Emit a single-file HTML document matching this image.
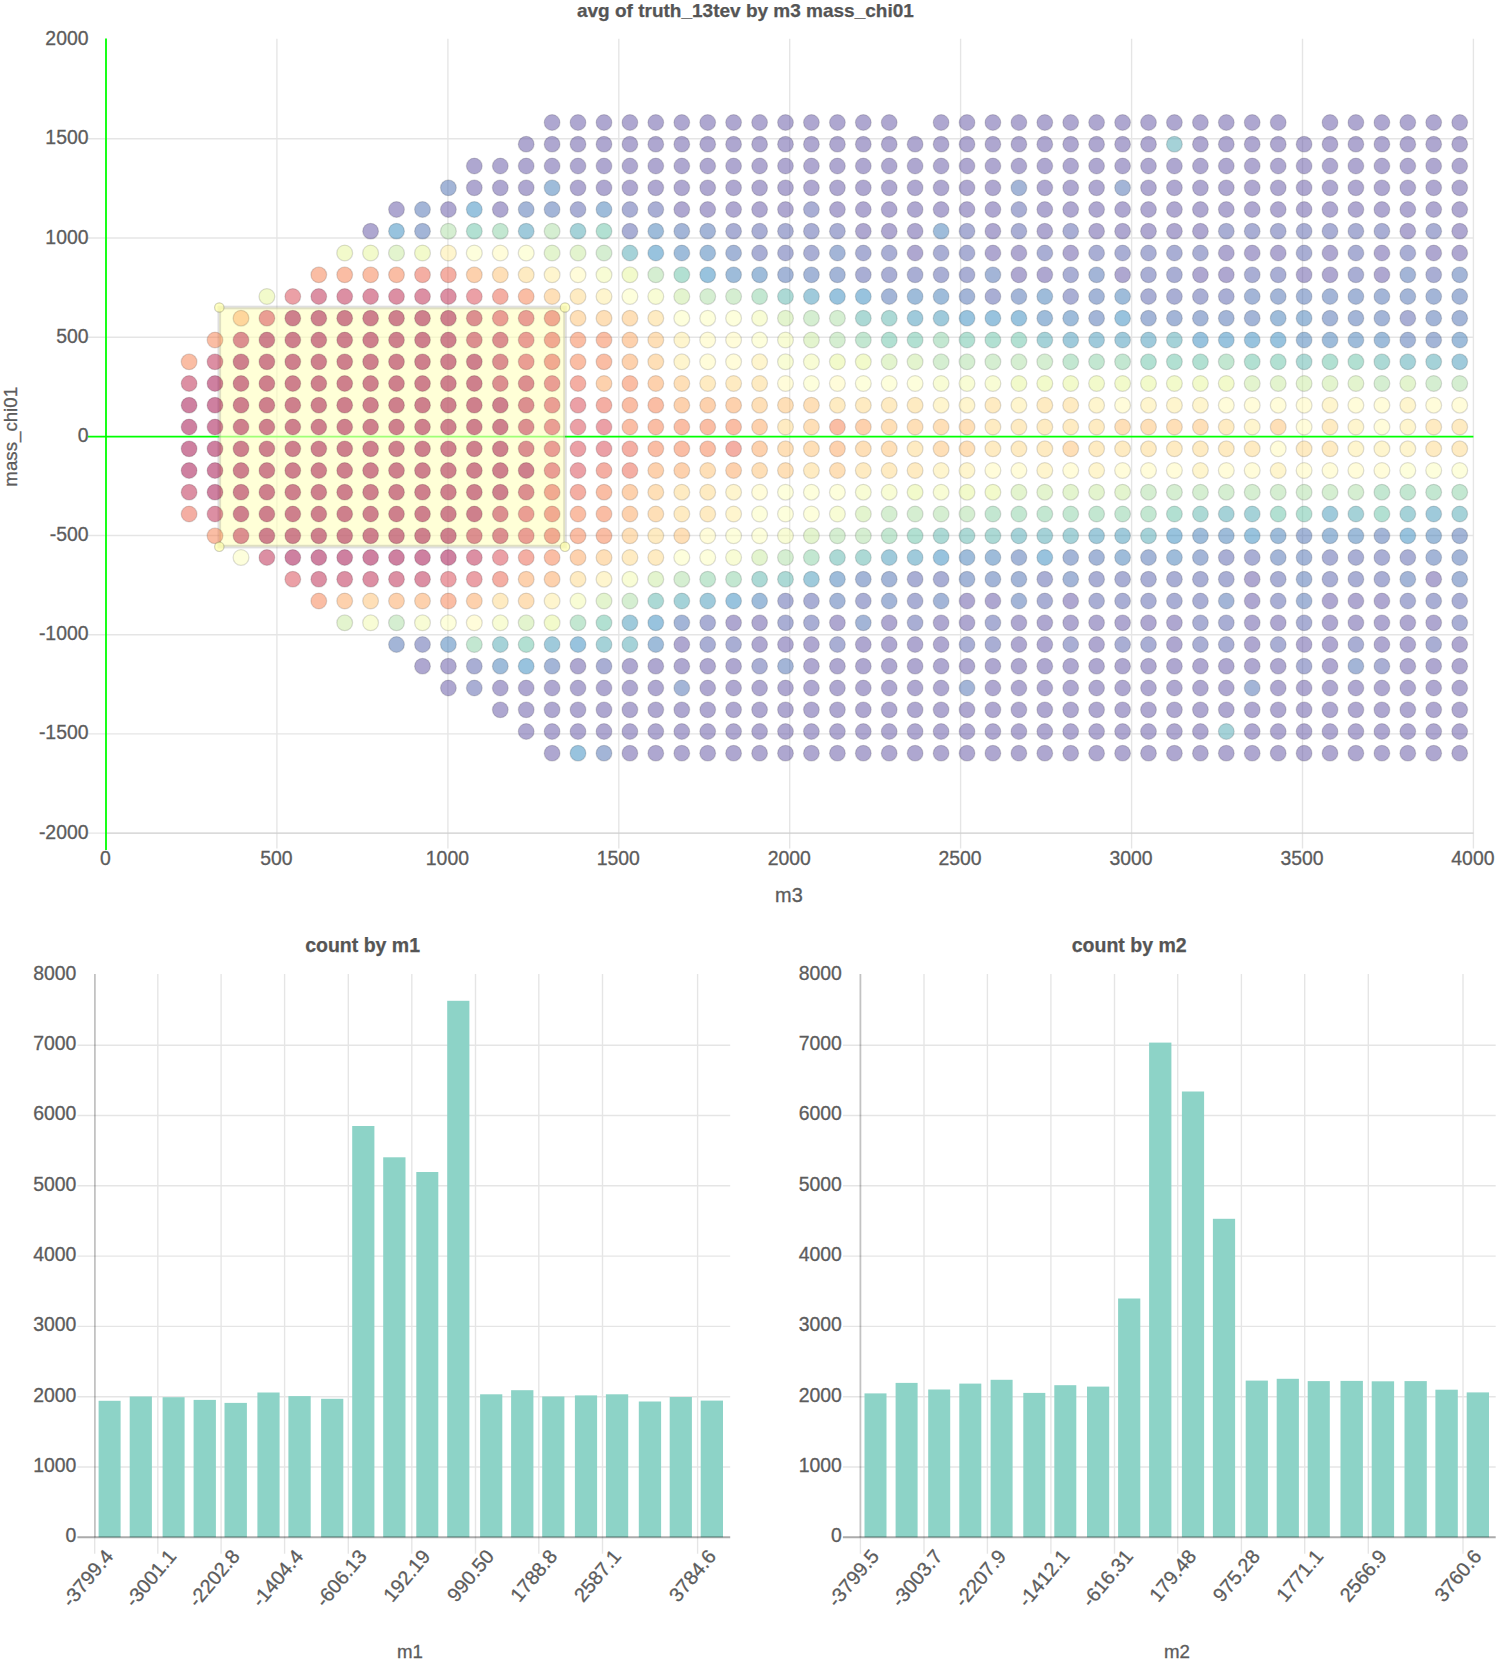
<!DOCTYPE html>
<html lang="en"><head><meta charset="utf-8"><title>avg of truth_13tev by m3 mass_chi01</title>
<style>html,body{margin:0;padding:0;background:#fff}
svg{display:block}
text{font-family:"Liberation Sans",sans-serif;fill:#5c5c5c;font-size:19.4px;stroke:#5c5c5c;stroke-width:.3px}
.tb{font-weight:bold;font-size:19px;fill:#555;stroke:#555;stroke-width:.25px}
.ax{font-size:18.7px}
.rt{font-size:19.8px}
.g{stroke:#000;stroke-opacity:.1;stroke-width:1.4;fill:none}
.z{stroke:#000;stroke-opacity:.24;stroke-width:1.8;fill:none}
.zb{stroke:#000;stroke-opacity:.33;stroke-width:2;fill:none}
.gr{stroke:#00ff00;stroke-width:1.8;fill:none}
.d circle{fill-opacity:.5;stroke:#000;stroke-opacity:.13;stroke-width:1.3}
.b rect{fill:#8dd3c7}
.te{text-anchor:end}
.tm{text-anchor:middle}
.k0{fill:#9e0142}
.k10{fill:#ba2048}
.k103{fill:#fbfeb9}
.k110{fill:#f2faac}
.k120{fill:#e6f598}
.k130{fill:#c8e99e}
.k140{fill:#abdda4}
.k150{fill:#88d0a4}
.k160{fill:#66c2a5}
.k165{fill:#59b4ab}
.k170{fill:#4ca5b1}
.k175{fill:#3f96b7}
.k180{fill:#3288bd}
.k185{fill:#3d7ab6}
.k190{fill:#486cb0}
.k195{fill:#535da9}
.k20{fill:#d53e4f}
.k200{fill:#5e4fa2}
.k22{fill:#d7424e}
.k30{fill:#e45649}
.k33{fill:#e95d47}
.k44{fill:#f67c4a}
.k57{fill:#fca45c}
.k60{fill:#fdae61}
.k67{fill:#fdc070}
.k77{fill:#fed885}
.k87{fill:#feeb9d}
.k96{fill:#fff9b5}</style></head><body>
<svg width="1499" height="1661" viewBox="0 0 1499 1661">
<rect width="1499" height="1661" fill="#fff"/>
<text class="tb tm" x="745.4" y="16.6">avg of truth_13tev by m3 mass_chi01</text>
<path class="g" d="M276.9 38.8V848.6M447.9 38.8V848.6M618.8 38.8V848.6M789.7 38.8V848.6M960.6 38.8V848.6M1131.6 38.8V848.6M1302.5 38.8V848.6M1473.4 38.8V848.6M88.0 138.8H1473.4M88.0 238.0H1473.4M88.0 337.2H1473.4M88.0 535.5H1473.4M88.0 634.7H1473.4M88.0 733.9H1473.4M88.0 833.1H1473.4"/>
<path class="g" d="M106.0 833.1H1473.4"/>
<path class="gr" d="M106.0 38.6V850.1M88.0 436.7H1473.4"/>
<text class="te" x="88.5" y="45.1">2000</text>
<text class="te" x="88.5" y="144.3">1500</text>
<text class="te" x="88.5" y="243.5">1000</text>
<text class="te" x="88.5" y="342.7">500</text>
<text class="te" x="88.5" y="441.9">0</text>
<text class="te" x="88.5" y="541.0">-500</text>
<text class="te" x="88.5" y="640.2">-1000</text>
<text class="te" x="88.5" y="739.4">-1500</text>
<text class="te" x="88.5" y="838.6">-2000</text>
<text class="tm" x="105.5" y="864.5">0</text>
<text class="tm" x="276.4" y="864.5">500</text>
<text class="tm" x="447.4" y="864.5">1000</text>
<text class="tm" x="618.3" y="864.5">1500</text>
<text class="tm" x="789.2" y="864.5">2000</text>
<text class="tm" x="960.1" y="864.5">2500</text>
<text class="tm" x="1131.1" y="864.5">3000</text>
<text class="tm" x="1302.0" y="864.5">3500</text>
<text class="tm" x="1472.9" y="864.5">4000</text>
<text class="tm" style="font-size:19.9px" x="788.9" y="901.5">m3</text>
<text class="tm ax" transform="translate(17.1 436.8) rotate(-90)">mass_chi01</text>
<rect x="219.3" y="307.5" width="345.7" height="239.1" fill="#ffffbe" fill-opacity=".62" stroke="#808080" stroke-opacity=".25" stroke-width="3.6"/>
<g class="d">
<circle class="k200" cx="552.1" cy="122.5" r="7.9"/>
<circle class="k200" cx="578.0" cy="122.5" r="7.9"/>
<circle class="k200" cx="604.0" cy="122.5" r="7.9"/>
<circle class="k200" cx="629.9" cy="122.5" r="7.9"/>
<circle class="k200" cx="655.8" cy="122.5" r="7.9"/>
<circle class="k200" cx="681.8" cy="122.5" r="7.9"/>
<circle class="k200" cx="707.7" cy="122.5" r="7.9"/>
<circle class="k200" cx="733.6" cy="122.5" r="7.9"/>
<circle class="k200" cx="759.6" cy="122.5" r="7.9"/>
<circle class="k200" cx="785.5" cy="122.5" r="7.9"/>
<circle class="k200" cx="811.4" cy="122.5" r="7.9"/>
<circle class="k200" cx="837.4" cy="122.5" r="7.9"/>
<circle class="k200" cx="863.3" cy="122.5" r="7.9"/>
<circle class="k200" cx="889.2" cy="122.5" r="7.9"/>
<circle class="k200" cx="941.1" cy="122.5" r="7.9"/>
<circle class="k200" cx="967.0" cy="122.5" r="7.9"/>
<circle class="k200" cx="992.9" cy="122.5" r="7.9"/>
<circle class="k200" cx="1018.9" cy="122.5" r="7.9"/>
<circle class="k200" cx="1044.8" cy="122.5" r="7.9"/>
<circle class="k200" cx="1070.7" cy="122.5" r="7.9"/>
<circle class="k200" cx="1096.6" cy="122.5" r="7.9"/>
<circle class="k200" cx="1122.6" cy="122.5" r="7.9"/>
<circle class="k200" cx="1148.5" cy="122.5" r="7.9"/>
<circle class="k200" cx="1174.4" cy="122.5" r="7.9"/>
<circle class="k200" cx="1200.4" cy="122.5" r="7.9"/>
<circle class="k200" cx="1226.3" cy="122.5" r="7.9"/>
<circle class="k200" cx="1252.2" cy="122.5" r="7.9"/>
<circle class="k200" cx="1278.2" cy="122.5" r="7.9"/>
<circle class="k200" cx="1330.0" cy="122.5" r="7.9"/>
<circle class="k200" cx="1355.9" cy="122.5" r="7.9"/>
<circle class="k200" cx="1381.9" cy="122.5" r="7.9"/>
<circle class="k200" cx="1407.8" cy="122.5" r="7.9"/>
<circle class="k200" cx="1433.7" cy="122.5" r="7.9"/>
<circle class="k200" cx="1459.7" cy="122.5" r="7.9"/>
<circle class="k200" cx="526.2" cy="144.2" r="7.9"/>
<circle class="k200" cx="552.1" cy="144.2" r="7.9"/>
<circle class="k200" cx="578.0" cy="144.2" r="7.9"/>
<circle class="k200" cx="604.0" cy="144.2" r="7.9"/>
<circle class="k200" cx="629.9" cy="144.2" r="7.9"/>
<circle class="k200" cx="655.8" cy="144.2" r="7.9"/>
<circle class="k200" cx="681.8" cy="144.2" r="7.9"/>
<circle class="k200" cx="707.7" cy="144.2" r="7.9"/>
<circle class="k200" cx="733.6" cy="144.2" r="7.9"/>
<circle class="k200" cx="759.6" cy="144.2" r="7.9"/>
<circle class="k200" cx="785.5" cy="144.2" r="7.9"/>
<circle class="k200" cx="811.4" cy="144.2" r="7.9"/>
<circle class="k200" cx="837.4" cy="144.2" r="7.9"/>
<circle class="k200" cx="863.3" cy="144.2" r="7.9"/>
<circle class="k200" cx="889.2" cy="144.2" r="7.9"/>
<circle class="k200" cx="915.1" cy="144.2" r="7.9"/>
<circle class="k200" cx="941.1" cy="144.2" r="7.9"/>
<circle class="k200" cx="967.0" cy="144.2" r="7.9"/>
<circle class="k200" cx="992.9" cy="144.2" r="7.9"/>
<circle class="k200" cx="1018.9" cy="144.2" r="7.9"/>
<circle class="k200" cx="1044.8" cy="144.2" r="7.9"/>
<circle class="k200" cx="1070.7" cy="144.2" r="7.9"/>
<circle class="k200" cx="1096.6" cy="144.2" r="7.9"/>
<circle class="k200" cx="1122.6" cy="144.2" r="7.9"/>
<circle class="k200" cx="1148.5" cy="144.2" r="7.9"/>
<circle class="k170" cx="1174.4" cy="144.2" r="7.9"/>
<circle class="k200" cx="1200.4" cy="144.2" r="7.9"/>
<circle class="k200" cx="1226.3" cy="144.2" r="7.9"/>
<circle class="k200" cx="1252.2" cy="144.2" r="7.9"/>
<circle class="k200" cx="1278.2" cy="144.2" r="7.9"/>
<circle class="k200" cx="1304.1" cy="144.2" r="7.9"/>
<circle class="k200" cx="1330.0" cy="144.2" r="7.9"/>
<circle class="k200" cx="1355.9" cy="144.2" r="7.9"/>
<circle class="k200" cx="1381.9" cy="144.2" r="7.9"/>
<circle class="k200" cx="1407.8" cy="144.2" r="7.9"/>
<circle class="k200" cx="1433.7" cy="144.2" r="7.9"/>
<circle class="k200" cx="1459.7" cy="144.2" r="7.9"/>
<circle class="k200" cx="474.3" cy="166.0" r="7.9"/>
<circle class="k200" cx="500.3" cy="166.0" r="7.9"/>
<circle class="k200" cx="526.2" cy="166.0" r="7.9"/>
<circle class="k200" cx="552.1" cy="166.0" r="7.9"/>
<circle class="k200" cx="578.0" cy="166.0" r="7.9"/>
<circle class="k200" cx="604.0" cy="166.0" r="7.9"/>
<circle class="k200" cx="629.9" cy="166.0" r="7.9"/>
<circle class="k200" cx="655.8" cy="166.0" r="7.9"/>
<circle class="k200" cx="681.8" cy="166.0" r="7.9"/>
<circle class="k200" cx="707.7" cy="166.0" r="7.9"/>
<circle class="k200" cx="733.6" cy="166.0" r="7.9"/>
<circle class="k200" cx="759.6" cy="166.0" r="7.9"/>
<circle class="k200" cx="785.5" cy="166.0" r="7.9"/>
<circle class="k200" cx="811.4" cy="166.0" r="7.9"/>
<circle class="k200" cx="837.4" cy="166.0" r="7.9"/>
<circle class="k200" cx="863.3" cy="166.0" r="7.9"/>
<circle class="k200" cx="889.2" cy="166.0" r="7.9"/>
<circle class="k200" cx="915.1" cy="166.0" r="7.9"/>
<circle class="k200" cx="941.1" cy="166.0" r="7.9"/>
<circle class="k200" cx="967.0" cy="166.0" r="7.9"/>
<circle class="k200" cx="992.9" cy="166.0" r="7.9"/>
<circle class="k200" cx="1018.9" cy="166.0" r="7.9"/>
<circle class="k200" cx="1044.8" cy="166.0" r="7.9"/>
<circle class="k200" cx="1070.7" cy="166.0" r="7.9"/>
<circle class="k200" cx="1096.6" cy="166.0" r="7.9"/>
<circle class="k200" cx="1122.6" cy="166.0" r="7.9"/>
<circle class="k200" cx="1148.5" cy="166.0" r="7.9"/>
<circle class="k200" cx="1174.4" cy="166.0" r="7.9"/>
<circle class="k200" cx="1200.4" cy="166.0" r="7.9"/>
<circle class="k200" cx="1226.3" cy="166.0" r="7.9"/>
<circle class="k200" cx="1252.2" cy="166.0" r="7.9"/>
<circle class="k200" cx="1278.2" cy="166.0" r="7.9"/>
<circle class="k200" cx="1304.1" cy="166.0" r="7.9"/>
<circle class="k200" cx="1330.0" cy="166.0" r="7.9"/>
<circle class="k200" cx="1355.9" cy="166.0" r="7.9"/>
<circle class="k200" cx="1381.9" cy="166.0" r="7.9"/>
<circle class="k200" cx="1407.8" cy="166.0" r="7.9"/>
<circle class="k200" cx="1433.7" cy="166.0" r="7.9"/>
<circle class="k200" cx="1459.7" cy="166.0" r="7.9"/>
<circle class="k190" cx="448.4" cy="187.8" r="7.9"/>
<circle class="k200" cx="474.3" cy="187.8" r="7.9"/>
<circle class="k200" cx="500.3" cy="187.8" r="7.9"/>
<circle class="k200" cx="526.2" cy="187.8" r="7.9"/>
<circle class="k185" cx="552.1" cy="187.8" r="7.9"/>
<circle class="k200" cx="578.0" cy="187.8" r="7.9"/>
<circle class="k200" cx="604.0" cy="187.8" r="7.9"/>
<circle class="k200" cx="629.9" cy="187.8" r="7.9"/>
<circle class="k200" cx="655.8" cy="187.8" r="7.9"/>
<circle class="k200" cx="681.8" cy="187.8" r="7.9"/>
<circle class="k200" cx="707.7" cy="187.8" r="7.9"/>
<circle class="k200" cx="733.6" cy="187.8" r="7.9"/>
<circle class="k200" cx="759.6" cy="187.8" r="7.9"/>
<circle class="k200" cx="785.5" cy="187.8" r="7.9"/>
<circle class="k200" cx="811.4" cy="187.8" r="7.9"/>
<circle class="k200" cx="837.4" cy="187.8" r="7.9"/>
<circle class="k200" cx="863.3" cy="187.8" r="7.9"/>
<circle class="k200" cx="889.2" cy="187.8" r="7.9"/>
<circle class="k200" cx="915.1" cy="187.8" r="7.9"/>
<circle class="k200" cx="941.1" cy="187.8" r="7.9"/>
<circle class="k200" cx="967.0" cy="187.8" r="7.9"/>
<circle class="k200" cx="992.9" cy="187.8" r="7.9"/>
<circle class="k190" cx="1018.9" cy="187.8" r="7.9"/>
<circle class="k200" cx="1044.8" cy="187.8" r="7.9"/>
<circle class="k200" cx="1070.7" cy="187.8" r="7.9"/>
<circle class="k200" cx="1096.6" cy="187.8" r="7.9"/>
<circle class="k190" cx="1122.6" cy="187.8" r="7.9"/>
<circle class="k200" cx="1148.5" cy="187.8" r="7.9"/>
<circle class="k200" cx="1174.4" cy="187.8" r="7.9"/>
<circle class="k200" cx="1200.4" cy="187.8" r="7.9"/>
<circle class="k200" cx="1226.3" cy="187.8" r="7.9"/>
<circle class="k200" cx="1252.2" cy="187.8" r="7.9"/>
<circle class="k200" cx="1278.2" cy="187.8" r="7.9"/>
<circle class="k200" cx="1304.1" cy="187.8" r="7.9"/>
<circle class="k200" cx="1330.0" cy="187.8" r="7.9"/>
<circle class="k200" cx="1355.9" cy="187.8" r="7.9"/>
<circle class="k200" cx="1381.9" cy="187.8" r="7.9"/>
<circle class="k200" cx="1407.8" cy="187.8" r="7.9"/>
<circle class="k200" cx="1433.7" cy="187.8" r="7.9"/>
<circle class="k200" cx="1459.7" cy="187.8" r="7.9"/>
<circle class="k200" cx="396.5" cy="209.5" r="7.9"/>
<circle class="k190" cx="422.5" cy="209.5" r="7.9"/>
<circle class="k200" cx="448.4" cy="209.5" r="7.9"/>
<circle class="k180" cx="474.3" cy="209.5" r="7.9"/>
<circle class="k200" cx="500.3" cy="209.5" r="7.9"/>
<circle class="k190" cx="526.2" cy="209.5" r="7.9"/>
<circle class="k190" cx="552.1" cy="209.5" r="7.9"/>
<circle class="k195" cx="578.0" cy="209.5" r="7.9"/>
<circle class="k185" cx="604.0" cy="209.5" r="7.9"/>
<circle class="k195" cx="629.9" cy="209.5" r="7.9"/>
<circle class="k195" cx="655.8" cy="209.5" r="7.9"/>
<circle class="k200" cx="681.8" cy="209.5" r="7.9"/>
<circle class="k200" cx="707.7" cy="209.5" r="7.9"/>
<circle class="k200" cx="733.6" cy="209.5" r="7.9"/>
<circle class="k200" cx="759.6" cy="209.5" r="7.9"/>
<circle class="k200" cx="785.5" cy="209.5" r="7.9"/>
<circle class="k195" cx="811.4" cy="209.5" r="7.9"/>
<circle class="k200" cx="837.4" cy="209.5" r="7.9"/>
<circle class="k200" cx="863.3" cy="209.5" r="7.9"/>
<circle class="k200" cx="889.2" cy="209.5" r="7.9"/>
<circle class="k200" cx="915.1" cy="209.5" r="7.9"/>
<circle class="k200" cx="941.1" cy="209.5" r="7.9"/>
<circle class="k200" cx="967.0" cy="209.5" r="7.9"/>
<circle class="k200" cx="992.9" cy="209.5" r="7.9"/>
<circle class="k195" cx="1018.9" cy="209.5" r="7.9"/>
<circle class="k200" cx="1044.8" cy="209.5" r="7.9"/>
<circle class="k200" cx="1070.7" cy="209.5" r="7.9"/>
<circle class="k200" cx="1096.6" cy="209.5" r="7.9"/>
<circle class="k200" cx="1122.6" cy="209.5" r="7.9"/>
<circle class="k200" cx="1148.5" cy="209.5" r="7.9"/>
<circle class="k200" cx="1174.4" cy="209.5" r="7.9"/>
<circle class="k200" cx="1200.4" cy="209.5" r="7.9"/>
<circle class="k200" cx="1226.3" cy="209.5" r="7.9"/>
<circle class="k200" cx="1252.2" cy="209.5" r="7.9"/>
<circle class="k200" cx="1278.2" cy="209.5" r="7.9"/>
<circle class="k200" cx="1304.1" cy="209.5" r="7.9"/>
<circle class="k200" cx="1330.0" cy="209.5" r="7.9"/>
<circle class="k200" cx="1355.9" cy="209.5" r="7.9"/>
<circle class="k200" cx="1381.9" cy="209.5" r="7.9"/>
<circle class="k200" cx="1407.8" cy="209.5" r="7.9"/>
<circle class="k200" cx="1433.7" cy="209.5" r="7.9"/>
<circle class="k200" cx="1459.7" cy="209.5" r="7.9"/>
<circle class="k200" cx="370.6" cy="231.2" r="7.9"/>
<circle class="k180" cx="396.5" cy="231.2" r="7.9"/>
<circle class="k190" cx="422.5" cy="231.2" r="7.9"/>
<circle class="k140" cx="448.4" cy="231.2" r="7.9"/>
<circle class="k160" cx="474.3" cy="231.2" r="7.9"/>
<circle class="k150" cx="500.3" cy="231.2" r="7.9"/>
<circle class="k175" cx="526.2" cy="231.2" r="7.9"/>
<circle class="k140" cx="552.1" cy="231.2" r="7.9"/>
<circle class="k170" cx="578.0" cy="231.2" r="7.9"/>
<circle class="k160" cx="604.0" cy="231.2" r="7.9"/>
<circle class="k195" cx="629.9" cy="231.2" r="7.9"/>
<circle class="k185" cx="655.8" cy="231.2" r="7.9"/>
<circle class="k190" cx="681.8" cy="231.2" r="7.9"/>
<circle class="k190" cx="707.7" cy="231.2" r="7.9"/>
<circle class="k195" cx="733.6" cy="231.2" r="7.9"/>
<circle class="k195" cx="759.6" cy="231.2" r="7.9"/>
<circle class="k195" cx="785.5" cy="231.2" r="7.9"/>
<circle class="k195" cx="811.4" cy="231.2" r="7.9"/>
<circle class="k195" cx="837.4" cy="231.2" r="7.9"/>
<circle class="k200" cx="863.3" cy="231.2" r="7.9"/>
<circle class="k200" cx="889.2" cy="231.2" r="7.9"/>
<circle class="k200" cx="915.1" cy="231.2" r="7.9"/>
<circle class="k185" cx="941.1" cy="231.2" r="7.9"/>
<circle class="k195" cx="967.0" cy="231.2" r="7.9"/>
<circle class="k200" cx="992.9" cy="231.2" r="7.9"/>
<circle class="k195" cx="1018.9" cy="231.2" r="7.9"/>
<circle class="k200" cx="1044.8" cy="231.2" r="7.9"/>
<circle class="k195" cx="1070.7" cy="231.2" r="7.9"/>
<circle class="k200" cx="1096.6" cy="231.2" r="7.9"/>
<circle class="k200" cx="1122.6" cy="231.2" r="7.9"/>
<circle class="k200" cx="1148.5" cy="231.2" r="7.9"/>
<circle class="k200" cx="1174.4" cy="231.2" r="7.9"/>
<circle class="k200" cx="1200.4" cy="231.2" r="7.9"/>
<circle class="k195" cx="1226.3" cy="231.2" r="7.9"/>
<circle class="k195" cx="1252.2" cy="231.2" r="7.9"/>
<circle class="k195" cx="1278.2" cy="231.2" r="7.9"/>
<circle class="k195" cx="1304.1" cy="231.2" r="7.9"/>
<circle class="k195" cx="1330.0" cy="231.2" r="7.9"/>
<circle class="k195" cx="1355.9" cy="231.2" r="7.9"/>
<circle class="k195" cx="1381.9" cy="231.2" r="7.9"/>
<circle class="k200" cx="1407.8" cy="231.2" r="7.9"/>
<circle class="k195" cx="1433.7" cy="231.2" r="7.9"/>
<circle class="k200" cx="1459.7" cy="231.2" r="7.9"/>
<circle class="k120" cx="344.7" cy="253.0" r="7.9"/>
<circle class="k120" cx="370.6" cy="253.0" r="7.9"/>
<circle class="k130" cx="396.5" cy="253.0" r="7.9"/>
<circle class="k120" cx="422.5" cy="253.0" r="7.9"/>
<circle class="k87" cx="448.4" cy="253.0" r="7.9"/>
<circle class="k103" cx="474.3" cy="253.0" r="7.9"/>
<circle class="k96" cx="500.3" cy="253.0" r="7.9"/>
<circle class="k103" cx="526.2" cy="253.0" r="7.9"/>
<circle class="k130" cx="552.1" cy="253.0" r="7.9"/>
<circle class="k130" cx="578.0" cy="253.0" r="7.9"/>
<circle class="k140" cx="604.0" cy="253.0" r="7.9"/>
<circle class="k170" cx="629.9" cy="253.0" r="7.9"/>
<circle class="k180" cx="655.8" cy="253.0" r="7.9"/>
<circle class="k185" cx="681.8" cy="253.0" r="7.9"/>
<circle class="k185" cx="707.7" cy="253.0" r="7.9"/>
<circle class="k190" cx="733.6" cy="253.0" r="7.9"/>
<circle class="k195" cx="759.6" cy="253.0" r="7.9"/>
<circle class="k195" cx="785.5" cy="253.0" r="7.9"/>
<circle class="k195" cx="811.4" cy="253.0" r="7.9"/>
<circle class="k190" cx="837.4" cy="253.0" r="7.9"/>
<circle class="k195" cx="863.3" cy="253.0" r="7.9"/>
<circle class="k195" cx="889.2" cy="253.0" r="7.9"/>
<circle class="k200" cx="915.1" cy="253.0" r="7.9"/>
<circle class="k195" cx="941.1" cy="253.0" r="7.9"/>
<circle class="k195" cx="967.0" cy="253.0" r="7.9"/>
<circle class="k200" cx="992.9" cy="253.0" r="7.9"/>
<circle class="k200" cx="1018.9" cy="253.0" r="7.9"/>
<circle class="k195" cx="1044.8" cy="253.0" r="7.9"/>
<circle class="k200" cx="1070.7" cy="253.0" r="7.9"/>
<circle class="k195" cx="1096.6" cy="253.0" r="7.9"/>
<circle class="k195" cx="1122.6" cy="253.0" r="7.9"/>
<circle class="k195" cx="1148.5" cy="253.0" r="7.9"/>
<circle class="k195" cx="1174.4" cy="253.0" r="7.9"/>
<circle class="k195" cx="1200.4" cy="253.0" r="7.9"/>
<circle class="k200" cx="1226.3" cy="253.0" r="7.9"/>
<circle class="k200" cx="1252.2" cy="253.0" r="7.9"/>
<circle class="k200" cx="1278.2" cy="253.0" r="7.9"/>
<circle class="k195" cx="1304.1" cy="253.0" r="7.9"/>
<circle class="k200" cx="1330.0" cy="253.0" r="7.9"/>
<circle class="k195" cx="1355.9" cy="253.0" r="7.9"/>
<circle class="k200" cx="1381.9" cy="253.0" r="7.9"/>
<circle class="k195" cx="1407.8" cy="253.0" r="7.9"/>
<circle class="k200" cx="1433.7" cy="253.0" r="7.9"/>
<circle class="k200" cx="1459.7" cy="253.0" r="7.9"/>
<circle class="k44" cx="318.8" cy="274.8" r="7.9"/>
<circle class="k44" cx="344.7" cy="274.8" r="7.9"/>
<circle class="k44" cx="370.6" cy="274.8" r="7.9"/>
<circle class="k44" cx="396.5" cy="274.8" r="7.9"/>
<circle class="k33" cx="422.5" cy="274.8" r="7.9"/>
<circle class="k33" cx="448.4" cy="274.8" r="7.9"/>
<circle class="k57" cx="474.3" cy="274.8" r="7.9"/>
<circle class="k67" cx="500.3" cy="274.8" r="7.9"/>
<circle class="k77" cx="526.2" cy="274.8" r="7.9"/>
<circle class="k87" cx="552.1" cy="274.8" r="7.9"/>
<circle class="k96" cx="578.0" cy="274.8" r="7.9"/>
<circle class="k110" cx="604.0" cy="274.8" r="7.9"/>
<circle class="k120" cx="629.9" cy="274.8" r="7.9"/>
<circle class="k140" cx="655.8" cy="274.8" r="7.9"/>
<circle class="k160" cx="681.8" cy="274.8" r="7.9"/>
<circle class="k180" cx="707.7" cy="274.8" r="7.9"/>
<circle class="k185" cx="733.6" cy="274.8" r="7.9"/>
<circle class="k185" cx="759.6" cy="274.8" r="7.9"/>
<circle class="k190" cx="785.5" cy="274.8" r="7.9"/>
<circle class="k190" cx="811.4" cy="274.8" r="7.9"/>
<circle class="k190" cx="837.4" cy="274.8" r="7.9"/>
<circle class="k195" cx="863.3" cy="274.8" r="7.9"/>
<circle class="k195" cx="889.2" cy="274.8" r="7.9"/>
<circle class="k195" cx="915.1" cy="274.8" r="7.9"/>
<circle class="k195" cx="941.1" cy="274.8" r="7.9"/>
<circle class="k195" cx="967.0" cy="274.8" r="7.9"/>
<circle class="k190" cx="992.9" cy="274.8" r="7.9"/>
<circle class="k200" cx="1018.9" cy="274.8" r="7.9"/>
<circle class="k200" cx="1044.8" cy="274.8" r="7.9"/>
<circle class="k195" cx="1070.7" cy="274.8" r="7.9"/>
<circle class="k190" cx="1096.6" cy="274.8" r="7.9"/>
<circle class="k200" cx="1122.6" cy="274.8" r="7.9"/>
<circle class="k195" cx="1148.5" cy="274.8" r="7.9"/>
<circle class="k195" cx="1174.4" cy="274.8" r="7.9"/>
<circle class="k200" cx="1200.4" cy="274.8" r="7.9"/>
<circle class="k200" cx="1226.3" cy="274.8" r="7.9"/>
<circle class="k195" cx="1252.2" cy="274.8" r="7.9"/>
<circle class="k195" cx="1278.2" cy="274.8" r="7.9"/>
<circle class="k200" cx="1304.1" cy="274.8" r="7.9"/>
<circle class="k200" cx="1330.0" cy="274.8" r="7.9"/>
<circle class="k195" cx="1355.9" cy="274.8" r="7.9"/>
<circle class="k200" cx="1381.9" cy="274.8" r="7.9"/>
<circle class="k190" cx="1407.8" cy="274.8" r="7.9"/>
<circle class="k195" cx="1433.7" cy="274.8" r="7.9"/>
<circle class="k190" cx="1459.7" cy="274.8" r="7.9"/>
<circle class="k120" cx="266.9" cy="296.5" r="7.9"/>
<circle class="k22" cx="292.8" cy="296.5" r="7.9"/>
<circle class="k10" cx="318.8" cy="296.5" r="7.9"/>
<circle class="k10" cx="344.7" cy="296.5" r="7.9"/>
<circle class="k10" cx="370.6" cy="296.5" r="7.9"/>
<circle class="k10" cx="396.5" cy="296.5" r="7.9"/>
<circle class="k10" cx="422.5" cy="296.5" r="7.9"/>
<circle class="k10" cx="448.4" cy="296.5" r="7.9"/>
<circle class="k22" cx="474.3" cy="296.5" r="7.9"/>
<circle class="k33" cx="500.3" cy="296.5" r="7.9"/>
<circle class="k44" cx="526.2" cy="296.5" r="7.9"/>
<circle class="k67" cx="552.1" cy="296.5" r="7.9"/>
<circle class="k77" cx="578.0" cy="296.5" r="7.9"/>
<circle class="k87" cx="604.0" cy="296.5" r="7.9"/>
<circle class="k103" cx="629.9" cy="296.5" r="7.9"/>
<circle class="k110" cx="655.8" cy="296.5" r="7.9"/>
<circle class="k130" cx="681.8" cy="296.5" r="7.9"/>
<circle class="k140" cx="707.7" cy="296.5" r="7.9"/>
<circle class="k140" cx="733.6" cy="296.5" r="7.9"/>
<circle class="k150" cx="759.6" cy="296.5" r="7.9"/>
<circle class="k165" cx="785.5" cy="296.5" r="7.9"/>
<circle class="k175" cx="811.4" cy="296.5" r="7.9"/>
<circle class="k180" cx="837.4" cy="296.5" r="7.9"/>
<circle class="k180" cx="863.3" cy="296.5" r="7.9"/>
<circle class="k190" cx="889.2" cy="296.5" r="7.9"/>
<circle class="k185" cx="915.1" cy="296.5" r="7.9"/>
<circle class="k185" cx="941.1" cy="296.5" r="7.9"/>
<circle class="k190" cx="967.0" cy="296.5" r="7.9"/>
<circle class="k195" cx="992.9" cy="296.5" r="7.9"/>
<circle class="k190" cx="1018.9" cy="296.5" r="7.9"/>
<circle class="k185" cx="1044.8" cy="296.5" r="7.9"/>
<circle class="k195" cx="1070.7" cy="296.5" r="7.9"/>
<circle class="k190" cx="1096.6" cy="296.5" r="7.9"/>
<circle class="k185" cx="1122.6" cy="296.5" r="7.9"/>
<circle class="k195" cx="1148.5" cy="296.5" r="7.9"/>
<circle class="k195" cx="1174.4" cy="296.5" r="7.9"/>
<circle class="k195" cx="1200.4" cy="296.5" r="7.9"/>
<circle class="k195" cx="1226.3" cy="296.5" r="7.9"/>
<circle class="k190" cx="1252.2" cy="296.5" r="7.9"/>
<circle class="k190" cx="1278.2" cy="296.5" r="7.9"/>
<circle class="k190" cx="1304.1" cy="296.5" r="7.9"/>
<circle class="k190" cx="1330.0" cy="296.5" r="7.9"/>
<circle class="k190" cx="1355.9" cy="296.5" r="7.9"/>
<circle class="k190" cx="1381.9" cy="296.5" r="7.9"/>
<circle class="k190" cx="1407.8" cy="296.5" r="7.9"/>
<circle class="k190" cx="1433.7" cy="296.5" r="7.9"/>
<circle class="k190" cx="1459.7" cy="296.5" r="7.9"/>
<circle class="k60" cx="241.0" cy="318.2" r="7.9"/>
<circle class="k20" cx="266.9" cy="318.2" r="7.9"/>
<circle class="k0" cx="292.8" cy="318.2" r="7.9"/>
<circle class="k0" cx="318.8" cy="318.2" r="7.9"/>
<circle class="k0" cx="344.7" cy="318.2" r="7.9"/>
<circle class="k0" cx="370.6" cy="318.2" r="7.9"/>
<circle class="k0" cx="396.5" cy="318.2" r="7.9"/>
<circle class="k0" cx="422.5" cy="318.2" r="7.9"/>
<circle class="k0" cx="448.4" cy="318.2" r="7.9"/>
<circle class="k10" cx="474.3" cy="318.2" r="7.9"/>
<circle class="k20" cx="500.3" cy="318.2" r="7.9"/>
<circle class="k20" cx="526.2" cy="318.2" r="7.9"/>
<circle class="k30" cx="552.1" cy="318.2" r="7.9"/>
<circle class="k67" cx="578.0" cy="318.2" r="7.9"/>
<circle class="k67" cx="604.0" cy="318.2" r="7.9"/>
<circle class="k67" cx="629.9" cy="318.2" r="7.9"/>
<circle class="k77" cx="655.8" cy="318.2" r="7.9"/>
<circle class="k103" cx="681.8" cy="318.2" r="7.9"/>
<circle class="k103" cx="707.7" cy="318.2" r="7.9"/>
<circle class="k103" cx="733.6" cy="318.2" r="7.9"/>
<circle class="k110" cx="759.6" cy="318.2" r="7.9"/>
<circle class="k130" cx="785.5" cy="318.2" r="7.9"/>
<circle class="k140" cx="811.4" cy="318.2" r="7.9"/>
<circle class="k140" cx="837.4" cy="318.2" r="7.9"/>
<circle class="k165" cx="863.3" cy="318.2" r="7.9"/>
<circle class="k165" cx="889.2" cy="318.2" r="7.9"/>
<circle class="k175" cx="915.1" cy="318.2" r="7.9"/>
<circle class="k175" cx="941.1" cy="318.2" r="7.9"/>
<circle class="k180" cx="967.0" cy="318.2" r="7.9"/>
<circle class="k180" cx="992.9" cy="318.2" r="7.9"/>
<circle class="k180" cx="1018.9" cy="318.2" r="7.9"/>
<circle class="k185" cx="1044.8" cy="318.2" r="7.9"/>
<circle class="k185" cx="1070.7" cy="318.2" r="7.9"/>
<circle class="k190" cx="1096.6" cy="318.2" r="7.9"/>
<circle class="k180" cx="1122.6" cy="318.2" r="7.9"/>
<circle class="k190" cx="1148.5" cy="318.2" r="7.9"/>
<circle class="k190" cx="1174.4" cy="318.2" r="7.9"/>
<circle class="k190" cx="1200.4" cy="318.2" r="7.9"/>
<circle class="k190" cx="1226.3" cy="318.2" r="7.9"/>
<circle class="k190" cx="1252.2" cy="318.2" r="7.9"/>
<circle class="k185" cx="1278.2" cy="318.2" r="7.9"/>
<circle class="k185" cx="1304.1" cy="318.2" r="7.9"/>
<circle class="k190" cx="1330.0" cy="318.2" r="7.9"/>
<circle class="k190" cx="1355.9" cy="318.2" r="7.9"/>
<circle class="k190" cx="1381.9" cy="318.2" r="7.9"/>
<circle class="k195" cx="1407.8" cy="318.2" r="7.9"/>
<circle class="k190" cx="1433.7" cy="318.2" r="7.9"/>
<circle class="k190" cx="1459.7" cy="318.2" r="7.9"/>
<circle class="k44" cx="215.0" cy="340.0" r="7.9"/>
<circle class="k10" cx="241.0" cy="340.0" r="7.9"/>
<circle class="k0" cx="266.9" cy="340.0" r="7.9"/>
<circle class="k0" cx="292.8" cy="340.0" r="7.9"/>
<circle class="k0" cx="318.8" cy="340.0" r="7.9"/>
<circle class="k0" cx="344.7" cy="340.0" r="7.9"/>
<circle class="k0" cx="370.6" cy="340.0" r="7.9"/>
<circle class="k0" cx="396.5" cy="340.0" r="7.9"/>
<circle class="k0" cx="422.5" cy="340.0" r="7.9"/>
<circle class="k0" cx="448.4" cy="340.0" r="7.9"/>
<circle class="k10" cx="474.3" cy="340.0" r="7.9"/>
<circle class="k10" cx="500.3" cy="340.0" r="7.9"/>
<circle class="k20" cx="526.2" cy="340.0" r="7.9"/>
<circle class="k30" cx="552.1" cy="340.0" r="7.9"/>
<circle class="k44" cx="578.0" cy="340.0" r="7.9"/>
<circle class="k44" cx="604.0" cy="340.0" r="7.9"/>
<circle class="k57" cx="629.9" cy="340.0" r="7.9"/>
<circle class="k67" cx="655.8" cy="340.0" r="7.9"/>
<circle class="k87" cx="681.8" cy="340.0" r="7.9"/>
<circle class="k96" cx="707.7" cy="340.0" r="7.9"/>
<circle class="k96" cx="733.6" cy="340.0" r="7.9"/>
<circle class="k103" cx="759.6" cy="340.0" r="7.9"/>
<circle class="k110" cx="785.5" cy="340.0" r="7.9"/>
<circle class="k130" cx="811.4" cy="340.0" r="7.9"/>
<circle class="k140" cx="837.4" cy="340.0" r="7.9"/>
<circle class="k150" cx="863.3" cy="340.0" r="7.9"/>
<circle class="k160" cx="889.2" cy="340.0" r="7.9"/>
<circle class="k160" cx="915.1" cy="340.0" r="7.9"/>
<circle class="k150" cx="941.1" cy="340.0" r="7.9"/>
<circle class="k160" cx="967.0" cy="340.0" r="7.9"/>
<circle class="k160" cx="992.9" cy="340.0" r="7.9"/>
<circle class="k160" cx="1018.9" cy="340.0" r="7.9"/>
<circle class="k170" cx="1044.8" cy="340.0" r="7.9"/>
<circle class="k175" cx="1070.7" cy="340.0" r="7.9"/>
<circle class="k175" cx="1096.6" cy="340.0" r="7.9"/>
<circle class="k175" cx="1122.6" cy="340.0" r="7.9"/>
<circle class="k175" cx="1148.5" cy="340.0" r="7.9"/>
<circle class="k170" cx="1174.4" cy="340.0" r="7.9"/>
<circle class="k180" cx="1200.4" cy="340.0" r="7.9"/>
<circle class="k180" cx="1226.3" cy="340.0" r="7.9"/>
<circle class="k180" cx="1252.2" cy="340.0" r="7.9"/>
<circle class="k180" cx="1278.2" cy="340.0" r="7.9"/>
<circle class="k185" cx="1304.1" cy="340.0" r="7.9"/>
<circle class="k185" cx="1330.0" cy="340.0" r="7.9"/>
<circle class="k185" cx="1355.9" cy="340.0" r="7.9"/>
<circle class="k185" cx="1381.9" cy="340.0" r="7.9"/>
<circle class="k190" cx="1407.8" cy="340.0" r="7.9"/>
<circle class="k190" cx="1433.7" cy="340.0" r="7.9"/>
<circle class="k185" cx="1459.7" cy="340.0" r="7.9"/>
<circle class="k44" cx="189.1" cy="361.8" r="7.9"/>
<circle class="k10" cx="215.0" cy="361.8" r="7.9"/>
<circle class="k0" cx="241.0" cy="361.8" r="7.9"/>
<circle class="k0" cx="266.9" cy="361.8" r="7.9"/>
<circle class="k0" cx="292.8" cy="361.8" r="7.9"/>
<circle class="k0" cx="318.8" cy="361.8" r="7.9"/>
<circle class="k0" cx="344.7" cy="361.8" r="7.9"/>
<circle class="k0" cx="370.6" cy="361.8" r="7.9"/>
<circle class="k0" cx="396.5" cy="361.8" r="7.9"/>
<circle class="k0" cx="422.5" cy="361.8" r="7.9"/>
<circle class="k0" cx="448.4" cy="361.8" r="7.9"/>
<circle class="k0" cx="474.3" cy="361.8" r="7.9"/>
<circle class="k10" cx="500.3" cy="361.8" r="7.9"/>
<circle class="k20" cx="526.2" cy="361.8" r="7.9"/>
<circle class="k30" cx="552.1" cy="361.8" r="7.9"/>
<circle class="k44" cx="578.0" cy="361.8" r="7.9"/>
<circle class="k44" cx="604.0" cy="361.8" r="7.9"/>
<circle class="k57" cx="629.9" cy="361.8" r="7.9"/>
<circle class="k67" cx="655.8" cy="361.8" r="7.9"/>
<circle class="k87" cx="681.8" cy="361.8" r="7.9"/>
<circle class="k96" cx="707.7" cy="361.8" r="7.9"/>
<circle class="k96" cx="733.6" cy="361.8" r="7.9"/>
<circle class="k87" cx="759.6" cy="361.8" r="7.9"/>
<circle class="k110" cx="785.5" cy="361.8" r="7.9"/>
<circle class="k110" cx="811.4" cy="361.8" r="7.9"/>
<circle class="k120" cx="837.4" cy="361.8" r="7.9"/>
<circle class="k120" cx="863.3" cy="361.8" r="7.9"/>
<circle class="k130" cx="889.2" cy="361.8" r="7.9"/>
<circle class="k130" cx="915.1" cy="361.8" r="7.9"/>
<circle class="k140" cx="941.1" cy="361.8" r="7.9"/>
<circle class="k140" cx="967.0" cy="361.8" r="7.9"/>
<circle class="k140" cx="992.9" cy="361.8" r="7.9"/>
<circle class="k140" cx="1018.9" cy="361.8" r="7.9"/>
<circle class="k140" cx="1044.8" cy="361.8" r="7.9"/>
<circle class="k150" cx="1070.7" cy="361.8" r="7.9"/>
<circle class="k150" cx="1096.6" cy="361.8" r="7.9"/>
<circle class="k150" cx="1122.6" cy="361.8" r="7.9"/>
<circle class="k160" cx="1148.5" cy="361.8" r="7.9"/>
<circle class="k160" cx="1174.4" cy="361.8" r="7.9"/>
<circle class="k160" cx="1200.4" cy="361.8" r="7.9"/>
<circle class="k150" cx="1226.3" cy="361.8" r="7.9"/>
<circle class="k160" cx="1252.2" cy="361.8" r="7.9"/>
<circle class="k160" cx="1278.2" cy="361.8" r="7.9"/>
<circle class="k165" cx="1304.1" cy="361.8" r="7.9"/>
<circle class="k160" cx="1330.0" cy="361.8" r="7.9"/>
<circle class="k160" cx="1355.9" cy="361.8" r="7.9"/>
<circle class="k165" cx="1381.9" cy="361.8" r="7.9"/>
<circle class="k170" cx="1407.8" cy="361.8" r="7.9"/>
<circle class="k170" cx="1433.7" cy="361.8" r="7.9"/>
<circle class="k175" cx="1459.7" cy="361.8" r="7.9"/>
<circle class="k10" cx="189.1" cy="383.5" r="7.9"/>
<circle class="k0" cx="215.0" cy="383.5" r="7.9"/>
<circle class="k0" cx="241.0" cy="383.5" r="7.9"/>
<circle class="k0" cx="266.9" cy="383.5" r="7.9"/>
<circle class="k0" cx="292.8" cy="383.5" r="7.9"/>
<circle class="k0" cx="318.8" cy="383.5" r="7.9"/>
<circle class="k0" cx="344.7" cy="383.5" r="7.9"/>
<circle class="k0" cx="370.6" cy="383.5" r="7.9"/>
<circle class="k0" cx="396.5" cy="383.5" r="7.9"/>
<circle class="k0" cx="422.5" cy="383.5" r="7.9"/>
<circle class="k0" cx="448.4" cy="383.5" r="7.9"/>
<circle class="k0" cx="474.3" cy="383.5" r="7.9"/>
<circle class="k10" cx="500.3" cy="383.5" r="7.9"/>
<circle class="k10" cx="526.2" cy="383.5" r="7.9"/>
<circle class="k20" cx="552.1" cy="383.5" r="7.9"/>
<circle class="k33" cx="578.0" cy="383.5" r="7.9"/>
<circle class="k57" cx="604.0" cy="383.5" r="7.9"/>
<circle class="k44" cx="629.9" cy="383.5" r="7.9"/>
<circle class="k57" cx="655.8" cy="383.5" r="7.9"/>
<circle class="k67" cx="681.8" cy="383.5" r="7.9"/>
<circle class="k77" cx="707.7" cy="383.5" r="7.9"/>
<circle class="k77" cx="733.6" cy="383.5" r="7.9"/>
<circle class="k77" cx="759.6" cy="383.5" r="7.9"/>
<circle class="k96" cx="785.5" cy="383.5" r="7.9"/>
<circle class="k103" cx="811.4" cy="383.5" r="7.9"/>
<circle class="k96" cx="837.4" cy="383.5" r="7.9"/>
<circle class="k103" cx="863.3" cy="383.5" r="7.9"/>
<circle class="k103" cx="889.2" cy="383.5" r="7.9"/>
<circle class="k103" cx="915.1" cy="383.5" r="7.9"/>
<circle class="k110" cx="941.1" cy="383.5" r="7.9"/>
<circle class="k110" cx="967.0" cy="383.5" r="7.9"/>
<circle class="k110" cx="992.9" cy="383.5" r="7.9"/>
<circle class="k120" cx="1018.9" cy="383.5" r="7.9"/>
<circle class="k120" cx="1044.8" cy="383.5" r="7.9"/>
<circle class="k120" cx="1070.7" cy="383.5" r="7.9"/>
<circle class="k120" cx="1096.6" cy="383.5" r="7.9"/>
<circle class="k120" cx="1122.6" cy="383.5" r="7.9"/>
<circle class="k120" cx="1148.5" cy="383.5" r="7.9"/>
<circle class="k120" cx="1174.4" cy="383.5" r="7.9"/>
<circle class="k120" cx="1200.4" cy="383.5" r="7.9"/>
<circle class="k120" cx="1226.3" cy="383.5" r="7.9"/>
<circle class="k130" cx="1252.2" cy="383.5" r="7.9"/>
<circle class="k130" cx="1278.2" cy="383.5" r="7.9"/>
<circle class="k130" cx="1304.1" cy="383.5" r="7.9"/>
<circle class="k130" cx="1330.0" cy="383.5" r="7.9"/>
<circle class="k130" cx="1355.9" cy="383.5" r="7.9"/>
<circle class="k140" cx="1381.9" cy="383.5" r="7.9"/>
<circle class="k130" cx="1407.8" cy="383.5" r="7.9"/>
<circle class="k140" cx="1433.7" cy="383.5" r="7.9"/>
<circle class="k140" cx="1459.7" cy="383.5" r="7.9"/>
<circle class="k0" cx="189.1" cy="405.2" r="7.9"/>
<circle class="k0" cx="215.0" cy="405.2" r="7.9"/>
<circle class="k0" cx="241.0" cy="405.2" r="7.9"/>
<circle class="k0" cx="266.9" cy="405.2" r="7.9"/>
<circle class="k0" cx="292.8" cy="405.2" r="7.9"/>
<circle class="k0" cx="318.8" cy="405.2" r="7.9"/>
<circle class="k0" cx="344.7" cy="405.2" r="7.9"/>
<circle class="k0" cx="370.6" cy="405.2" r="7.9"/>
<circle class="k0" cx="396.5" cy="405.2" r="7.9"/>
<circle class="k0" cx="422.5" cy="405.2" r="7.9"/>
<circle class="k0" cx="448.4" cy="405.2" r="7.9"/>
<circle class="k0" cx="474.3" cy="405.2" r="7.9"/>
<circle class="k0" cx="500.3" cy="405.2" r="7.9"/>
<circle class="k10" cx="526.2" cy="405.2" r="7.9"/>
<circle class="k20" cx="552.1" cy="405.2" r="7.9"/>
<circle class="k22" cx="578.0" cy="405.2" r="7.9"/>
<circle class="k33" cx="604.0" cy="405.2" r="7.9"/>
<circle class="k44" cx="629.9" cy="405.2" r="7.9"/>
<circle class="k44" cx="655.8" cy="405.2" r="7.9"/>
<circle class="k57" cx="681.8" cy="405.2" r="7.9"/>
<circle class="k57" cx="707.7" cy="405.2" r="7.9"/>
<circle class="k57" cx="733.6" cy="405.2" r="7.9"/>
<circle class="k67" cx="759.6" cy="405.2" r="7.9"/>
<circle class="k67" cx="785.5" cy="405.2" r="7.9"/>
<circle class="k67" cx="811.4" cy="405.2" r="7.9"/>
<circle class="k77" cx="837.4" cy="405.2" r="7.9"/>
<circle class="k77" cx="863.3" cy="405.2" r="7.9"/>
<circle class="k77" cx="889.2" cy="405.2" r="7.9"/>
<circle class="k77" cx="915.1" cy="405.2" r="7.9"/>
<circle class="k87" cx="941.1" cy="405.2" r="7.9"/>
<circle class="k87" cx="967.0" cy="405.2" r="7.9"/>
<circle class="k77" cx="992.9" cy="405.2" r="7.9"/>
<circle class="k87" cx="1018.9" cy="405.2" r="7.9"/>
<circle class="k77" cx="1044.8" cy="405.2" r="7.9"/>
<circle class="k77" cx="1070.7" cy="405.2" r="7.9"/>
<circle class="k87" cx="1096.6" cy="405.2" r="7.9"/>
<circle class="k96" cx="1122.6" cy="405.2" r="7.9"/>
<circle class="k87" cx="1148.5" cy="405.2" r="7.9"/>
<circle class="k87" cx="1174.4" cy="405.2" r="7.9"/>
<circle class="k87" cx="1200.4" cy="405.2" r="7.9"/>
<circle class="k96" cx="1226.3" cy="405.2" r="7.9"/>
<circle class="k96" cx="1252.2" cy="405.2" r="7.9"/>
<circle class="k96" cx="1278.2" cy="405.2" r="7.9"/>
<circle class="k96" cx="1304.1" cy="405.2" r="7.9"/>
<circle class="k87" cx="1330.0" cy="405.2" r="7.9"/>
<circle class="k96" cx="1355.9" cy="405.2" r="7.9"/>
<circle class="k96" cx="1381.9" cy="405.2" r="7.9"/>
<circle class="k87" cx="1407.8" cy="405.2" r="7.9"/>
<circle class="k96" cx="1433.7" cy="405.2" r="7.9"/>
<circle class="k96" cx="1459.7" cy="405.2" r="7.9"/>
<circle class="k0" cx="189.1" cy="427.0" r="7.9"/>
<circle class="k0" cx="215.0" cy="427.0" r="7.9"/>
<circle class="k0" cx="241.0" cy="427.0" r="7.9"/>
<circle class="k0" cx="266.9" cy="427.0" r="7.9"/>
<circle class="k0" cx="292.8" cy="427.0" r="7.9"/>
<circle class="k0" cx="318.8" cy="427.0" r="7.9"/>
<circle class="k0" cx="344.7" cy="427.0" r="7.9"/>
<circle class="k0" cx="370.6" cy="427.0" r="7.9"/>
<circle class="k0" cx="396.5" cy="427.0" r="7.9"/>
<circle class="k0" cx="422.5" cy="427.0" r="7.9"/>
<circle class="k0" cx="448.4" cy="427.0" r="7.9"/>
<circle class="k0" cx="474.3" cy="427.0" r="7.9"/>
<circle class="k0" cx="500.3" cy="427.0" r="7.9"/>
<circle class="k10" cx="526.2" cy="427.0" r="7.9"/>
<circle class="k20" cx="552.1" cy="427.0" r="7.9"/>
<circle class="k22" cx="578.0" cy="427.0" r="7.9"/>
<circle class="k22" cx="604.0" cy="427.0" r="7.9"/>
<circle class="k44" cx="629.9" cy="427.0" r="7.9"/>
<circle class="k44" cx="655.8" cy="427.0" r="7.9"/>
<circle class="k44" cx="681.8" cy="427.0" r="7.9"/>
<circle class="k44" cx="707.7" cy="427.0" r="7.9"/>
<circle class="k44" cx="733.6" cy="427.0" r="7.9"/>
<circle class="k57" cx="759.6" cy="427.0" r="7.9"/>
<circle class="k77" cx="785.5" cy="427.0" r="7.9"/>
<circle class="k67" cx="811.4" cy="427.0" r="7.9"/>
<circle class="k44" cx="837.4" cy="427.0" r="7.9"/>
<circle class="k57" cx="863.3" cy="427.0" r="7.9"/>
<circle class="k67" cx="889.2" cy="427.0" r="7.9"/>
<circle class="k67" cx="915.1" cy="427.0" r="7.9"/>
<circle class="k67" cx="941.1" cy="427.0" r="7.9"/>
<circle class="k67" cx="967.0" cy="427.0" r="7.9"/>
<circle class="k77" cx="992.9" cy="427.0" r="7.9"/>
<circle class="k77" cx="1018.9" cy="427.0" r="7.9"/>
<circle class="k77" cx="1044.8" cy="427.0" r="7.9"/>
<circle class="k77" cx="1070.7" cy="427.0" r="7.9"/>
<circle class="k77" cx="1096.6" cy="427.0" r="7.9"/>
<circle class="k67" cx="1122.6" cy="427.0" r="7.9"/>
<circle class="k67" cx="1148.5" cy="427.0" r="7.9"/>
<circle class="k67" cx="1174.4" cy="427.0" r="7.9"/>
<circle class="k67" cx="1200.4" cy="427.0" r="7.9"/>
<circle class="k77" cx="1226.3" cy="427.0" r="7.9"/>
<circle class="k87" cx="1252.2" cy="427.0" r="7.9"/>
<circle class="k67" cx="1278.2" cy="427.0" r="7.9"/>
<circle class="k96" cx="1304.1" cy="427.0" r="7.9"/>
<circle class="k77" cx="1330.0" cy="427.0" r="7.9"/>
<circle class="k87" cx="1355.9" cy="427.0" r="7.9"/>
<circle class="k96" cx="1381.9" cy="427.0" r="7.9"/>
<circle class="k87" cx="1407.8" cy="427.0" r="7.9"/>
<circle class="k77" cx="1433.7" cy="427.0" r="7.9"/>
<circle class="k77" cx="1459.7" cy="427.0" r="7.9"/>
<circle class="k0" cx="189.1" cy="448.8" r="7.9"/>
<circle class="k0" cx="215.0" cy="448.8" r="7.9"/>
<circle class="k0" cx="241.0" cy="448.8" r="7.9"/>
<circle class="k0" cx="266.9" cy="448.8" r="7.9"/>
<circle class="k0" cx="292.8" cy="448.8" r="7.9"/>
<circle class="k0" cx="318.8" cy="448.8" r="7.9"/>
<circle class="k0" cx="344.7" cy="448.8" r="7.9"/>
<circle class="k0" cx="370.6" cy="448.8" r="7.9"/>
<circle class="k0" cx="396.5" cy="448.8" r="7.9"/>
<circle class="k0" cx="422.5" cy="448.8" r="7.9"/>
<circle class="k0" cx="448.4" cy="448.8" r="7.9"/>
<circle class="k0" cx="474.3" cy="448.8" r="7.9"/>
<circle class="k0" cx="500.3" cy="448.8" r="7.9"/>
<circle class="k10" cx="526.2" cy="448.8" r="7.9"/>
<circle class="k20" cx="552.1" cy="448.8" r="7.9"/>
<circle class="k22" cx="578.0" cy="448.8" r="7.9"/>
<circle class="k22" cx="604.0" cy="448.8" r="7.9"/>
<circle class="k33" cx="629.9" cy="448.8" r="7.9"/>
<circle class="k44" cx="655.8" cy="448.8" r="7.9"/>
<circle class="k44" cx="681.8" cy="448.8" r="7.9"/>
<circle class="k44" cx="707.7" cy="448.8" r="7.9"/>
<circle class="k33" cx="733.6" cy="448.8" r="7.9"/>
<circle class="k57" cx="759.6" cy="448.8" r="7.9"/>
<circle class="k67" cx="785.5" cy="448.8" r="7.9"/>
<circle class="k67" cx="811.4" cy="448.8" r="7.9"/>
<circle class="k57" cx="837.4" cy="448.8" r="7.9"/>
<circle class="k67" cx="863.3" cy="448.8" r="7.9"/>
<circle class="k67" cx="889.2" cy="448.8" r="7.9"/>
<circle class="k77" cx="915.1" cy="448.8" r="7.9"/>
<circle class="k67" cx="941.1" cy="448.8" r="7.9"/>
<circle class="k67" cx="967.0" cy="448.8" r="7.9"/>
<circle class="k77" cx="992.9" cy="448.8" r="7.9"/>
<circle class="k77" cx="1018.9" cy="448.8" r="7.9"/>
<circle class="k77" cx="1044.8" cy="448.8" r="7.9"/>
<circle class="k67" cx="1070.7" cy="448.8" r="7.9"/>
<circle class="k77" cx="1096.6" cy="448.8" r="7.9"/>
<circle class="k77" cx="1122.6" cy="448.8" r="7.9"/>
<circle class="k77" cx="1148.5" cy="448.8" r="7.9"/>
<circle class="k77" cx="1174.4" cy="448.8" r="7.9"/>
<circle class="k77" cx="1200.4" cy="448.8" r="7.9"/>
<circle class="k77" cx="1226.3" cy="448.8" r="7.9"/>
<circle class="k77" cx="1252.2" cy="448.8" r="7.9"/>
<circle class="k96" cx="1278.2" cy="448.8" r="7.9"/>
<circle class="k77" cx="1304.1" cy="448.8" r="7.9"/>
<circle class="k77" cx="1330.0" cy="448.8" r="7.9"/>
<circle class="k87" cx="1355.9" cy="448.8" r="7.9"/>
<circle class="k87" cx="1381.9" cy="448.8" r="7.9"/>
<circle class="k87" cx="1407.8" cy="448.8" r="7.9"/>
<circle class="k77" cx="1433.7" cy="448.8" r="7.9"/>
<circle class="k77" cx="1459.7" cy="448.8" r="7.9"/>
<circle class="k0" cx="189.1" cy="470.5" r="7.9"/>
<circle class="k0" cx="215.0" cy="470.5" r="7.9"/>
<circle class="k0" cx="241.0" cy="470.5" r="7.9"/>
<circle class="k0" cx="266.9" cy="470.5" r="7.9"/>
<circle class="k0" cx="292.8" cy="470.5" r="7.9"/>
<circle class="k0" cx="318.8" cy="470.5" r="7.9"/>
<circle class="k0" cx="344.7" cy="470.5" r="7.9"/>
<circle class="k0" cx="370.6" cy="470.5" r="7.9"/>
<circle class="k0" cx="396.5" cy="470.5" r="7.9"/>
<circle class="k0" cx="422.5" cy="470.5" r="7.9"/>
<circle class="k0" cx="448.4" cy="470.5" r="7.9"/>
<circle class="k0" cx="474.3" cy="470.5" r="7.9"/>
<circle class="k0" cx="500.3" cy="470.5" r="7.9"/>
<circle class="k0" cx="526.2" cy="470.5" r="7.9"/>
<circle class="k20" cx="552.1" cy="470.5" r="7.9"/>
<circle class="k22" cx="578.0" cy="470.5" r="7.9"/>
<circle class="k33" cx="604.0" cy="470.5" r="7.9"/>
<circle class="k33" cx="629.9" cy="470.5" r="7.9"/>
<circle class="k57" cx="655.8" cy="470.5" r="7.9"/>
<circle class="k57" cx="681.8" cy="470.5" r="7.9"/>
<circle class="k67" cx="707.7" cy="470.5" r="7.9"/>
<circle class="k57" cx="733.6" cy="470.5" r="7.9"/>
<circle class="k67" cx="759.6" cy="470.5" r="7.9"/>
<circle class="k67" cx="785.5" cy="470.5" r="7.9"/>
<circle class="k77" cx="811.4" cy="470.5" r="7.9"/>
<circle class="k67" cx="837.4" cy="470.5" r="7.9"/>
<circle class="k77" cx="863.3" cy="470.5" r="7.9"/>
<circle class="k77" cx="889.2" cy="470.5" r="7.9"/>
<circle class="k77" cx="915.1" cy="470.5" r="7.9"/>
<circle class="k87" cx="941.1" cy="470.5" r="7.9"/>
<circle class="k87" cx="967.0" cy="470.5" r="7.9"/>
<circle class="k96" cx="992.9" cy="470.5" r="7.9"/>
<circle class="k96" cx="1018.9" cy="470.5" r="7.9"/>
<circle class="k87" cx="1044.8" cy="470.5" r="7.9"/>
<circle class="k96" cx="1070.7" cy="470.5" r="7.9"/>
<circle class="k87" cx="1096.6" cy="470.5" r="7.9"/>
<circle class="k96" cx="1122.6" cy="470.5" r="7.9"/>
<circle class="k96" cx="1148.5" cy="470.5" r="7.9"/>
<circle class="k96" cx="1174.4" cy="470.5" r="7.9"/>
<circle class="k87" cx="1200.4" cy="470.5" r="7.9"/>
<circle class="k96" cx="1226.3" cy="470.5" r="7.9"/>
<circle class="k96" cx="1252.2" cy="470.5" r="7.9"/>
<circle class="k87" cx="1278.2" cy="470.5" r="7.9"/>
<circle class="k96" cx="1304.1" cy="470.5" r="7.9"/>
<circle class="k96" cx="1330.0" cy="470.5" r="7.9"/>
<circle class="k96" cx="1355.9" cy="470.5" r="7.9"/>
<circle class="k96" cx="1381.9" cy="470.5" r="7.9"/>
<circle class="k103" cx="1407.8" cy="470.5" r="7.9"/>
<circle class="k103" cx="1433.7" cy="470.5" r="7.9"/>
<circle class="k103" cx="1459.7" cy="470.5" r="7.9"/>
<circle class="k10" cx="189.1" cy="492.2" r="7.9"/>
<circle class="k0" cx="215.0" cy="492.2" r="7.9"/>
<circle class="k0" cx="241.0" cy="492.2" r="7.9"/>
<circle class="k0" cx="266.9" cy="492.2" r="7.9"/>
<circle class="k0" cx="292.8" cy="492.2" r="7.9"/>
<circle class="k0" cx="318.8" cy="492.2" r="7.9"/>
<circle class="k0" cx="344.7" cy="492.2" r="7.9"/>
<circle class="k0" cx="370.6" cy="492.2" r="7.9"/>
<circle class="k0" cx="396.5" cy="492.2" r="7.9"/>
<circle class="k0" cx="422.5" cy="492.2" r="7.9"/>
<circle class="k0" cx="448.4" cy="492.2" r="7.9"/>
<circle class="k0" cx="474.3" cy="492.2" r="7.9"/>
<circle class="k0" cx="500.3" cy="492.2" r="7.9"/>
<circle class="k10" cx="526.2" cy="492.2" r="7.9"/>
<circle class="k30" cx="552.1" cy="492.2" r="7.9"/>
<circle class="k33" cx="578.0" cy="492.2" r="7.9"/>
<circle class="k44" cx="604.0" cy="492.2" r="7.9"/>
<circle class="k57" cx="629.9" cy="492.2" r="7.9"/>
<circle class="k67" cx="655.8" cy="492.2" r="7.9"/>
<circle class="k77" cx="681.8" cy="492.2" r="7.9"/>
<circle class="k77" cx="707.7" cy="492.2" r="7.9"/>
<circle class="k87" cx="733.6" cy="492.2" r="7.9"/>
<circle class="k96" cx="759.6" cy="492.2" r="7.9"/>
<circle class="k103" cx="785.5" cy="492.2" r="7.9"/>
<circle class="k103" cx="811.4" cy="492.2" r="7.9"/>
<circle class="k103" cx="837.4" cy="492.2" r="7.9"/>
<circle class="k110" cx="863.3" cy="492.2" r="7.9"/>
<circle class="k110" cx="889.2" cy="492.2" r="7.9"/>
<circle class="k120" cx="915.1" cy="492.2" r="7.9"/>
<circle class="k110" cx="941.1" cy="492.2" r="7.9"/>
<circle class="k120" cx="967.0" cy="492.2" r="7.9"/>
<circle class="k120" cx="992.9" cy="492.2" r="7.9"/>
<circle class="k130" cx="1018.9" cy="492.2" r="7.9"/>
<circle class="k130" cx="1044.8" cy="492.2" r="7.9"/>
<circle class="k130" cx="1070.7" cy="492.2" r="7.9"/>
<circle class="k130" cx="1096.6" cy="492.2" r="7.9"/>
<circle class="k130" cx="1122.6" cy="492.2" r="7.9"/>
<circle class="k140" cx="1148.5" cy="492.2" r="7.9"/>
<circle class="k140" cx="1174.4" cy="492.2" r="7.9"/>
<circle class="k140" cx="1200.4" cy="492.2" r="7.9"/>
<circle class="k140" cx="1226.3" cy="492.2" r="7.9"/>
<circle class="k140" cx="1252.2" cy="492.2" r="7.9"/>
<circle class="k140" cx="1278.2" cy="492.2" r="7.9"/>
<circle class="k140" cx="1304.1" cy="492.2" r="7.9"/>
<circle class="k140" cx="1330.0" cy="492.2" r="7.9"/>
<circle class="k140" cx="1355.9" cy="492.2" r="7.9"/>
<circle class="k150" cx="1381.9" cy="492.2" r="7.9"/>
<circle class="k150" cx="1407.8" cy="492.2" r="7.9"/>
<circle class="k150" cx="1433.7" cy="492.2" r="7.9"/>
<circle class="k150" cx="1459.7" cy="492.2" r="7.9"/>
<circle class="k33" cx="189.1" cy="514.0" r="7.9"/>
<circle class="k10" cx="215.0" cy="514.0" r="7.9"/>
<circle class="k0" cx="241.0" cy="514.0" r="7.9"/>
<circle class="k0" cx="266.9" cy="514.0" r="7.9"/>
<circle class="k0" cx="292.8" cy="514.0" r="7.9"/>
<circle class="k0" cx="318.8" cy="514.0" r="7.9"/>
<circle class="k0" cx="344.7" cy="514.0" r="7.9"/>
<circle class="k0" cx="370.6" cy="514.0" r="7.9"/>
<circle class="k0" cx="396.5" cy="514.0" r="7.9"/>
<circle class="k0" cx="422.5" cy="514.0" r="7.9"/>
<circle class="k0" cx="448.4" cy="514.0" r="7.9"/>
<circle class="k0" cx="474.3" cy="514.0" r="7.9"/>
<circle class="k10" cx="500.3" cy="514.0" r="7.9"/>
<circle class="k20" cx="526.2" cy="514.0" r="7.9"/>
<circle class="k30" cx="552.1" cy="514.0" r="7.9"/>
<circle class="k44" cx="578.0" cy="514.0" r="7.9"/>
<circle class="k44" cx="604.0" cy="514.0" r="7.9"/>
<circle class="k57" cx="629.9" cy="514.0" r="7.9"/>
<circle class="k67" cx="655.8" cy="514.0" r="7.9"/>
<circle class="k77" cx="681.8" cy="514.0" r="7.9"/>
<circle class="k77" cx="707.7" cy="514.0" r="7.9"/>
<circle class="k87" cx="733.6" cy="514.0" r="7.9"/>
<circle class="k103" cx="759.6" cy="514.0" r="7.9"/>
<circle class="k103" cx="785.5" cy="514.0" r="7.9"/>
<circle class="k103" cx="811.4" cy="514.0" r="7.9"/>
<circle class="k110" cx="837.4" cy="514.0" r="7.9"/>
<circle class="k130" cx="863.3" cy="514.0" r="7.9"/>
<circle class="k140" cx="889.2" cy="514.0" r="7.9"/>
<circle class="k140" cx="915.1" cy="514.0" r="7.9"/>
<circle class="k140" cx="941.1" cy="514.0" r="7.9"/>
<circle class="k140" cx="967.0" cy="514.0" r="7.9"/>
<circle class="k150" cx="992.9" cy="514.0" r="7.9"/>
<circle class="k150" cx="1018.9" cy="514.0" r="7.9"/>
<circle class="k150" cx="1044.8" cy="514.0" r="7.9"/>
<circle class="k150" cx="1070.7" cy="514.0" r="7.9"/>
<circle class="k150" cx="1096.6" cy="514.0" r="7.9"/>
<circle class="k150" cx="1122.6" cy="514.0" r="7.9"/>
<circle class="k150" cx="1148.5" cy="514.0" r="7.9"/>
<circle class="k160" cx="1174.4" cy="514.0" r="7.9"/>
<circle class="k165" cx="1200.4" cy="514.0" r="7.9"/>
<circle class="k170" cx="1226.3" cy="514.0" r="7.9"/>
<circle class="k170" cx="1252.2" cy="514.0" r="7.9"/>
<circle class="k160" cx="1278.2" cy="514.0" r="7.9"/>
<circle class="k160" cx="1304.1" cy="514.0" r="7.9"/>
<circle class="k175" cx="1330.0" cy="514.0" r="7.9"/>
<circle class="k170" cx="1355.9" cy="514.0" r="7.9"/>
<circle class="k160" cx="1381.9" cy="514.0" r="7.9"/>
<circle class="k170" cx="1407.8" cy="514.0" r="7.9"/>
<circle class="k175" cx="1433.7" cy="514.0" r="7.9"/>
<circle class="k170" cx="1459.7" cy="514.0" r="7.9"/>
<circle class="k44" cx="215.0" cy="535.8" r="7.9"/>
<circle class="k10" cx="241.0" cy="535.8" r="7.9"/>
<circle class="k0" cx="266.9" cy="535.8" r="7.9"/>
<circle class="k0" cx="292.8" cy="535.8" r="7.9"/>
<circle class="k0" cx="318.8" cy="535.8" r="7.9"/>
<circle class="k0" cx="344.7" cy="535.8" r="7.9"/>
<circle class="k0" cx="370.6" cy="535.8" r="7.9"/>
<circle class="k0" cx="396.5" cy="535.8" r="7.9"/>
<circle class="k0" cx="422.5" cy="535.8" r="7.9"/>
<circle class="k0" cx="448.4" cy="535.8" r="7.9"/>
<circle class="k10" cx="474.3" cy="535.8" r="7.9"/>
<circle class="k10" cx="500.3" cy="535.8" r="7.9"/>
<circle class="k20" cx="526.2" cy="535.8" r="7.9"/>
<circle class="k30" cx="552.1" cy="535.8" r="7.9"/>
<circle class="k44" cx="578.0" cy="535.8" r="7.9"/>
<circle class="k44" cx="604.0" cy="535.8" r="7.9"/>
<circle class="k67" cx="629.9" cy="535.8" r="7.9"/>
<circle class="k77" cx="655.8" cy="535.8" r="7.9"/>
<circle class="k67" cx="681.8" cy="535.8" r="7.9"/>
<circle class="k96" cx="707.7" cy="535.8" r="7.9"/>
<circle class="k103" cx="733.6" cy="535.8" r="7.9"/>
<circle class="k103" cx="759.6" cy="535.8" r="7.9"/>
<circle class="k110" cx="785.5" cy="535.8" r="7.9"/>
<circle class="k130" cx="811.4" cy="535.8" r="7.9"/>
<circle class="k140" cx="837.4" cy="535.8" r="7.9"/>
<circle class="k140" cx="863.3" cy="535.8" r="7.9"/>
<circle class="k150" cx="889.2" cy="535.8" r="7.9"/>
<circle class="k160" cx="915.1" cy="535.8" r="7.9"/>
<circle class="k165" cx="941.1" cy="535.8" r="7.9"/>
<circle class="k165" cx="967.0" cy="535.8" r="7.9"/>
<circle class="k165" cx="992.9" cy="535.8" r="7.9"/>
<circle class="k170" cx="1018.9" cy="535.8" r="7.9"/>
<circle class="k170" cx="1044.8" cy="535.8" r="7.9"/>
<circle class="k170" cx="1070.7" cy="535.8" r="7.9"/>
<circle class="k175" cx="1096.6" cy="535.8" r="7.9"/>
<circle class="k175" cx="1122.6" cy="535.8" r="7.9"/>
<circle class="k170" cx="1148.5" cy="535.8" r="7.9"/>
<circle class="k180" cx="1174.4" cy="535.8" r="7.9"/>
<circle class="k185" cx="1200.4" cy="535.8" r="7.9"/>
<circle class="k185" cx="1226.3" cy="535.8" r="7.9"/>
<circle class="k180" cx="1252.2" cy="535.8" r="7.9"/>
<circle class="k185" cx="1278.2" cy="535.8" r="7.9"/>
<circle class="k190" cx="1304.1" cy="535.8" r="7.9"/>
<circle class="k185" cx="1330.0" cy="535.8" r="7.9"/>
<circle class="k185" cx="1355.9" cy="535.8" r="7.9"/>
<circle class="k190" cx="1381.9" cy="535.8" r="7.9"/>
<circle class="k180" cx="1407.8" cy="535.8" r="7.9"/>
<circle class="k185" cx="1433.7" cy="535.8" r="7.9"/>
<circle class="k190" cx="1459.7" cy="535.8" r="7.9"/>
<circle class="k103" cx="241.0" cy="557.5" r="7.9"/>
<circle class="k10" cx="266.9" cy="557.5" r="7.9"/>
<circle class="k0" cx="292.8" cy="557.5" r="7.9"/>
<circle class="k0" cx="318.8" cy="557.5" r="7.9"/>
<circle class="k0" cx="344.7" cy="557.5" r="7.9"/>
<circle class="k0" cx="370.6" cy="557.5" r="7.9"/>
<circle class="k0" cx="396.5" cy="557.5" r="7.9"/>
<circle class="k0" cx="422.5" cy="557.5" r="7.9"/>
<circle class="k0" cx="448.4" cy="557.5" r="7.9"/>
<circle class="k10" cx="474.3" cy="557.5" r="7.9"/>
<circle class="k22" cx="500.3" cy="557.5" r="7.9"/>
<circle class="k33" cx="526.2" cy="557.5" r="7.9"/>
<circle class="k44" cx="552.1" cy="557.5" r="7.9"/>
<circle class="k57" cx="578.0" cy="557.5" r="7.9"/>
<circle class="k67" cx="604.0" cy="557.5" r="7.9"/>
<circle class="k77" cx="629.9" cy="557.5" r="7.9"/>
<circle class="k77" cx="655.8" cy="557.5" r="7.9"/>
<circle class="k103" cx="681.8" cy="557.5" r="7.9"/>
<circle class="k103" cx="707.7" cy="557.5" r="7.9"/>
<circle class="k110" cx="733.6" cy="557.5" r="7.9"/>
<circle class="k130" cx="759.6" cy="557.5" r="7.9"/>
<circle class="k140" cx="785.5" cy="557.5" r="7.9"/>
<circle class="k150" cx="811.4" cy="557.5" r="7.9"/>
<circle class="k165" cx="837.4" cy="557.5" r="7.9"/>
<circle class="k165" cx="863.3" cy="557.5" r="7.9"/>
<circle class="k175" cx="889.2" cy="557.5" r="7.9"/>
<circle class="k175" cx="915.1" cy="557.5" r="7.9"/>
<circle class="k180" cx="941.1" cy="557.5" r="7.9"/>
<circle class="k185" cx="967.0" cy="557.5" r="7.9"/>
<circle class="k185" cx="992.9" cy="557.5" r="7.9"/>
<circle class="k190" cx="1018.9" cy="557.5" r="7.9"/>
<circle class="k180" cx="1044.8" cy="557.5" r="7.9"/>
<circle class="k190" cx="1070.7" cy="557.5" r="7.9"/>
<circle class="k190" cx="1096.6" cy="557.5" r="7.9"/>
<circle class="k185" cx="1122.6" cy="557.5" r="7.9"/>
<circle class="k190" cx="1148.5" cy="557.5" r="7.9"/>
<circle class="k185" cx="1174.4" cy="557.5" r="7.9"/>
<circle class="k190" cx="1200.4" cy="557.5" r="7.9"/>
<circle class="k195" cx="1226.3" cy="557.5" r="7.9"/>
<circle class="k195" cx="1252.2" cy="557.5" r="7.9"/>
<circle class="k190" cx="1278.2" cy="557.5" r="7.9"/>
<circle class="k190" cx="1304.1" cy="557.5" r="7.9"/>
<circle class="k195" cx="1330.0" cy="557.5" r="7.9"/>
<circle class="k195" cx="1355.9" cy="557.5" r="7.9"/>
<circle class="k195" cx="1381.9" cy="557.5" r="7.9"/>
<circle class="k195" cx="1407.8" cy="557.5" r="7.9"/>
<circle class="k190" cx="1433.7" cy="557.5" r="7.9"/>
<circle class="k190" cx="1459.7" cy="557.5" r="7.9"/>
<circle class="k22" cx="292.8" cy="579.2" r="7.9"/>
<circle class="k10" cx="318.8" cy="579.2" r="7.9"/>
<circle class="k10" cx="344.7" cy="579.2" r="7.9"/>
<circle class="k10" cx="370.6" cy="579.2" r="7.9"/>
<circle class="k10" cx="396.5" cy="579.2" r="7.9"/>
<circle class="k10" cx="422.5" cy="579.2" r="7.9"/>
<circle class="k22" cx="448.4" cy="579.2" r="7.9"/>
<circle class="k22" cx="474.3" cy="579.2" r="7.9"/>
<circle class="k33" cx="500.3" cy="579.2" r="7.9"/>
<circle class="k57" cx="526.2" cy="579.2" r="7.9"/>
<circle class="k57" cx="552.1" cy="579.2" r="7.9"/>
<circle class="k77" cx="578.0" cy="579.2" r="7.9"/>
<circle class="k87" cx="604.0" cy="579.2" r="7.9"/>
<circle class="k110" cx="629.9" cy="579.2" r="7.9"/>
<circle class="k130" cx="655.8" cy="579.2" r="7.9"/>
<circle class="k140" cx="681.8" cy="579.2" r="7.9"/>
<circle class="k150" cx="707.7" cy="579.2" r="7.9"/>
<circle class="k150" cx="733.6" cy="579.2" r="7.9"/>
<circle class="k165" cx="759.6" cy="579.2" r="7.9"/>
<circle class="k165" cx="785.5" cy="579.2" r="7.9"/>
<circle class="k175" cx="811.4" cy="579.2" r="7.9"/>
<circle class="k185" cx="837.4" cy="579.2" r="7.9"/>
<circle class="k190" cx="863.3" cy="579.2" r="7.9"/>
<circle class="k190" cx="889.2" cy="579.2" r="7.9"/>
<circle class="k195" cx="915.1" cy="579.2" r="7.9"/>
<circle class="k195" cx="941.1" cy="579.2" r="7.9"/>
<circle class="k190" cx="967.0" cy="579.2" r="7.9"/>
<circle class="k190" cx="992.9" cy="579.2" r="7.9"/>
<circle class="k190" cx="1018.9" cy="579.2" r="7.9"/>
<circle class="k195" cx="1044.8" cy="579.2" r="7.9"/>
<circle class="k190" cx="1070.7" cy="579.2" r="7.9"/>
<circle class="k195" cx="1096.6" cy="579.2" r="7.9"/>
<circle class="k195" cx="1122.6" cy="579.2" r="7.9"/>
<circle class="k195" cx="1148.5" cy="579.2" r="7.9"/>
<circle class="k195" cx="1174.4" cy="579.2" r="7.9"/>
<circle class="k195" cx="1200.4" cy="579.2" r="7.9"/>
<circle class="k195" cx="1226.3" cy="579.2" r="7.9"/>
<circle class="k200" cx="1252.2" cy="579.2" r="7.9"/>
<circle class="k195" cx="1278.2" cy="579.2" r="7.9"/>
<circle class="k190" cx="1304.1" cy="579.2" r="7.9"/>
<circle class="k195" cx="1330.0" cy="579.2" r="7.9"/>
<circle class="k195" cx="1355.9" cy="579.2" r="7.9"/>
<circle class="k195" cx="1381.9" cy="579.2" r="7.9"/>
<circle class="k190" cx="1407.8" cy="579.2" r="7.9"/>
<circle class="k200" cx="1433.7" cy="579.2" r="7.9"/>
<circle class="k190" cx="1459.7" cy="579.2" r="7.9"/>
<circle class="k44" cx="318.8" cy="601.0" r="7.9"/>
<circle class="k57" cx="344.7" cy="601.0" r="7.9"/>
<circle class="k67" cx="370.6" cy="601.0" r="7.9"/>
<circle class="k57" cx="396.5" cy="601.0" r="7.9"/>
<circle class="k57" cx="422.5" cy="601.0" r="7.9"/>
<circle class="k44" cx="448.4" cy="601.0" r="7.9"/>
<circle class="k57" cx="474.3" cy="601.0" r="7.9"/>
<circle class="k77" cx="500.3" cy="601.0" r="7.9"/>
<circle class="k67" cx="526.2" cy="601.0" r="7.9"/>
<circle class="k87" cx="552.1" cy="601.0" r="7.9"/>
<circle class="k110" cx="578.0" cy="601.0" r="7.9"/>
<circle class="k130" cx="604.0" cy="601.0" r="7.9"/>
<circle class="k140" cx="629.9" cy="601.0" r="7.9"/>
<circle class="k165" cx="655.8" cy="601.0" r="7.9"/>
<circle class="k170" cx="681.8" cy="601.0" r="7.9"/>
<circle class="k175" cx="707.7" cy="601.0" r="7.9"/>
<circle class="k180" cx="733.6" cy="601.0" r="7.9"/>
<circle class="k185" cx="759.6" cy="601.0" r="7.9"/>
<circle class="k195" cx="785.5" cy="601.0" r="7.9"/>
<circle class="k195" cx="811.4" cy="601.0" r="7.9"/>
<circle class="k190" cx="837.4" cy="601.0" r="7.9"/>
<circle class="k195" cx="863.3" cy="601.0" r="7.9"/>
<circle class="k190" cx="889.2" cy="601.0" r="7.9"/>
<circle class="k195" cx="915.1" cy="601.0" r="7.9"/>
<circle class="k190" cx="941.1" cy="601.0" r="7.9"/>
<circle class="k200" cx="967.0" cy="601.0" r="7.9"/>
<circle class="k200" cx="992.9" cy="601.0" r="7.9"/>
<circle class="k190" cx="1018.9" cy="601.0" r="7.9"/>
<circle class="k195" cx="1044.8" cy="601.0" r="7.9"/>
<circle class="k200" cx="1070.7" cy="601.0" r="7.9"/>
<circle class="k195" cx="1096.6" cy="601.0" r="7.9"/>
<circle class="k195" cx="1122.6" cy="601.0" r="7.9"/>
<circle class="k195" cx="1148.5" cy="601.0" r="7.9"/>
<circle class="k195" cx="1174.4" cy="601.0" r="7.9"/>
<circle class="k195" cx="1200.4" cy="601.0" r="7.9"/>
<circle class="k190" cx="1226.3" cy="601.0" r="7.9"/>
<circle class="k200" cx="1252.2" cy="601.0" r="7.9"/>
<circle class="k195" cx="1278.2" cy="601.0" r="7.9"/>
<circle class="k190" cx="1304.1" cy="601.0" r="7.9"/>
<circle class="k200" cx="1330.0" cy="601.0" r="7.9"/>
<circle class="k200" cx="1355.9" cy="601.0" r="7.9"/>
<circle class="k200" cx="1381.9" cy="601.0" r="7.9"/>
<circle class="k195" cx="1407.8" cy="601.0" r="7.9"/>
<circle class="k195" cx="1433.7" cy="601.0" r="7.9"/>
<circle class="k195" cx="1459.7" cy="601.0" r="7.9"/>
<circle class="k130" cx="344.7" cy="622.8" r="7.9"/>
<circle class="k110" cx="370.6" cy="622.8" r="7.9"/>
<circle class="k140" cx="396.5" cy="622.8" r="7.9"/>
<circle class="k110" cx="422.5" cy="622.8" r="7.9"/>
<circle class="k103" cx="448.4" cy="622.8" r="7.9"/>
<circle class="k96" cx="474.3" cy="622.8" r="7.9"/>
<circle class="k110" cx="500.3" cy="622.8" r="7.9"/>
<circle class="k130" cx="526.2" cy="622.8" r="7.9"/>
<circle class="k120" cx="552.1" cy="622.8" r="7.9"/>
<circle class="k150" cx="578.0" cy="622.8" r="7.9"/>
<circle class="k160" cx="604.0" cy="622.8" r="7.9"/>
<circle class="k175" cx="629.9" cy="622.8" r="7.9"/>
<circle class="k180" cx="655.8" cy="622.8" r="7.9"/>
<circle class="k190" cx="681.8" cy="622.8" r="7.9"/>
<circle class="k195" cx="707.7" cy="622.8" r="7.9"/>
<circle class="k200" cx="733.6" cy="622.8" r="7.9"/>
<circle class="k200" cx="759.6" cy="622.8" r="7.9"/>
<circle class="k195" cx="785.5" cy="622.8" r="7.9"/>
<circle class="k195" cx="811.4" cy="622.8" r="7.9"/>
<circle class="k200" cx="837.4" cy="622.8" r="7.9"/>
<circle class="k190" cx="863.3" cy="622.8" r="7.9"/>
<circle class="k200" cx="889.2" cy="622.8" r="7.9"/>
<circle class="k195" cx="915.1" cy="622.8" r="7.9"/>
<circle class="k200" cx="941.1" cy="622.8" r="7.9"/>
<circle class="k200" cx="967.0" cy="622.8" r="7.9"/>
<circle class="k195" cx="992.9" cy="622.8" r="7.9"/>
<circle class="k200" cx="1018.9" cy="622.8" r="7.9"/>
<circle class="k200" cx="1044.8" cy="622.8" r="7.9"/>
<circle class="k200" cx="1070.7" cy="622.8" r="7.9"/>
<circle class="k200" cx="1096.6" cy="622.8" r="7.9"/>
<circle class="k200" cx="1122.6" cy="622.8" r="7.9"/>
<circle class="k200" cx="1148.5" cy="622.8" r="7.9"/>
<circle class="k200" cx="1174.4" cy="622.8" r="7.9"/>
<circle class="k195" cx="1200.4" cy="622.8" r="7.9"/>
<circle class="k195" cx="1226.3" cy="622.8" r="7.9"/>
<circle class="k200" cx="1252.2" cy="622.8" r="7.9"/>
<circle class="k200" cx="1278.2" cy="622.8" r="7.9"/>
<circle class="k195" cx="1304.1" cy="622.8" r="7.9"/>
<circle class="k200" cx="1330.0" cy="622.8" r="7.9"/>
<circle class="k200" cx="1355.9" cy="622.8" r="7.9"/>
<circle class="k200" cx="1381.9" cy="622.8" r="7.9"/>
<circle class="k200" cx="1407.8" cy="622.8" r="7.9"/>
<circle class="k200" cx="1433.7" cy="622.8" r="7.9"/>
<circle class="k195" cx="1459.7" cy="622.8" r="7.9"/>
<circle class="k190" cx="396.5" cy="644.5" r="7.9"/>
<circle class="k195" cx="422.5" cy="644.5" r="7.9"/>
<circle class="k185" cx="448.4" cy="644.5" r="7.9"/>
<circle class="k150" cx="474.3" cy="644.5" r="7.9"/>
<circle class="k170" cx="500.3" cy="644.5" r="7.9"/>
<circle class="k160" cx="526.2" cy="644.5" r="7.9"/>
<circle class="k175" cx="552.1" cy="644.5" r="7.9"/>
<circle class="k180" cx="578.0" cy="644.5" r="7.9"/>
<circle class="k170" cx="604.0" cy="644.5" r="7.9"/>
<circle class="k170" cx="629.9" cy="644.5" r="7.9"/>
<circle class="k185" cx="655.8" cy="644.5" r="7.9"/>
<circle class="k200" cx="681.8" cy="644.5" r="7.9"/>
<circle class="k195" cx="707.7" cy="644.5" r="7.9"/>
<circle class="k195" cx="733.6" cy="644.5" r="7.9"/>
<circle class="k200" cx="759.6" cy="644.5" r="7.9"/>
<circle class="k200" cx="785.5" cy="644.5" r="7.9"/>
<circle class="k200" cx="811.4" cy="644.5" r="7.9"/>
<circle class="k195" cx="837.4" cy="644.5" r="7.9"/>
<circle class="k200" cx="863.3" cy="644.5" r="7.9"/>
<circle class="k200" cx="889.2" cy="644.5" r="7.9"/>
<circle class="k200" cx="915.1" cy="644.5" r="7.9"/>
<circle class="k200" cx="941.1" cy="644.5" r="7.9"/>
<circle class="k195" cx="967.0" cy="644.5" r="7.9"/>
<circle class="k195" cx="992.9" cy="644.5" r="7.9"/>
<circle class="k200" cx="1018.9" cy="644.5" r="7.9"/>
<circle class="k200" cx="1044.8" cy="644.5" r="7.9"/>
<circle class="k195" cx="1070.7" cy="644.5" r="7.9"/>
<circle class="k200" cx="1096.6" cy="644.5" r="7.9"/>
<circle class="k195" cx="1122.6" cy="644.5" r="7.9"/>
<circle class="k195" cx="1148.5" cy="644.5" r="7.9"/>
<circle class="k200" cx="1174.4" cy="644.5" r="7.9"/>
<circle class="k195" cx="1200.4" cy="644.5" r="7.9"/>
<circle class="k195" cx="1226.3" cy="644.5" r="7.9"/>
<circle class="k200" cx="1252.2" cy="644.5" r="7.9"/>
<circle class="k195" cx="1278.2" cy="644.5" r="7.9"/>
<circle class="k200" cx="1304.1" cy="644.5" r="7.9"/>
<circle class="k200" cx="1330.0" cy="644.5" r="7.9"/>
<circle class="k195" cx="1355.9" cy="644.5" r="7.9"/>
<circle class="k200" cx="1381.9" cy="644.5" r="7.9"/>
<circle class="k200" cx="1407.8" cy="644.5" r="7.9"/>
<circle class="k195" cx="1433.7" cy="644.5" r="7.9"/>
<circle class="k200" cx="1459.7" cy="644.5" r="7.9"/>
<circle class="k200" cx="422.5" cy="666.2" r="7.9"/>
<circle class="k200" cx="448.4" cy="666.2" r="7.9"/>
<circle class="k195" cx="474.3" cy="666.2" r="7.9"/>
<circle class="k185" cx="500.3" cy="666.2" r="7.9"/>
<circle class="k180" cx="526.2" cy="666.2" r="7.9"/>
<circle class="k190" cx="552.1" cy="666.2" r="7.9"/>
<circle class="k200" cx="578.0" cy="666.2" r="7.9"/>
<circle class="k195" cx="604.0" cy="666.2" r="7.9"/>
<circle class="k200" cx="629.9" cy="666.2" r="7.9"/>
<circle class="k200" cx="655.8" cy="666.2" r="7.9"/>
<circle class="k200" cx="681.8" cy="666.2" r="7.9"/>
<circle class="k200" cx="707.7" cy="666.2" r="7.9"/>
<circle class="k200" cx="733.6" cy="666.2" r="7.9"/>
<circle class="k195" cx="759.6" cy="666.2" r="7.9"/>
<circle class="k190" cx="785.5" cy="666.2" r="7.9"/>
<circle class="k200" cx="811.4" cy="666.2" r="7.9"/>
<circle class="k200" cx="837.4" cy="666.2" r="7.9"/>
<circle class="k200" cx="863.3" cy="666.2" r="7.9"/>
<circle class="k200" cx="889.2" cy="666.2" r="7.9"/>
<circle class="k200" cx="915.1" cy="666.2" r="7.9"/>
<circle class="k200" cx="941.1" cy="666.2" r="7.9"/>
<circle class="k200" cx="967.0" cy="666.2" r="7.9"/>
<circle class="k200" cx="992.9" cy="666.2" r="7.9"/>
<circle class="k200" cx="1018.9" cy="666.2" r="7.9"/>
<circle class="k200" cx="1044.8" cy="666.2" r="7.9"/>
<circle class="k200" cx="1070.7" cy="666.2" r="7.9"/>
<circle class="k200" cx="1096.6" cy="666.2" r="7.9"/>
<circle class="k200" cx="1122.6" cy="666.2" r="7.9"/>
<circle class="k200" cx="1148.5" cy="666.2" r="7.9"/>
<circle class="k200" cx="1174.4" cy="666.2" r="7.9"/>
<circle class="k200" cx="1200.4" cy="666.2" r="7.9"/>
<circle class="k200" cx="1226.3" cy="666.2" r="7.9"/>
<circle class="k200" cx="1252.2" cy="666.2" r="7.9"/>
<circle class="k200" cx="1278.2" cy="666.2" r="7.9"/>
<circle class="k195" cx="1304.1" cy="666.2" r="7.9"/>
<circle class="k200" cx="1330.0" cy="666.2" r="7.9"/>
<circle class="k190" cx="1355.9" cy="666.2" r="7.9"/>
<circle class="k195" cx="1381.9" cy="666.2" r="7.9"/>
<circle class="k200" cx="1407.8" cy="666.2" r="7.9"/>
<circle class="k200" cx="1433.7" cy="666.2" r="7.9"/>
<circle class="k200" cx="1459.7" cy="666.2" r="7.9"/>
<circle class="k200" cx="448.4" cy="688.0" r="7.9"/>
<circle class="k195" cx="474.3" cy="688.0" r="7.9"/>
<circle class="k200" cx="500.3" cy="688.0" r="7.9"/>
<circle class="k200" cx="526.2" cy="688.0" r="7.9"/>
<circle class="k200" cx="552.1" cy="688.0" r="7.9"/>
<circle class="k200" cx="578.0" cy="688.0" r="7.9"/>
<circle class="k200" cx="604.0" cy="688.0" r="7.9"/>
<circle class="k200" cx="629.9" cy="688.0" r="7.9"/>
<circle class="k200" cx="655.8" cy="688.0" r="7.9"/>
<circle class="k190" cx="681.8" cy="688.0" r="7.9"/>
<circle class="k200" cx="707.7" cy="688.0" r="7.9"/>
<circle class="k200" cx="733.6" cy="688.0" r="7.9"/>
<circle class="k200" cx="759.6" cy="688.0" r="7.9"/>
<circle class="k200" cx="785.5" cy="688.0" r="7.9"/>
<circle class="k200" cx="811.4" cy="688.0" r="7.9"/>
<circle class="k200" cx="837.4" cy="688.0" r="7.9"/>
<circle class="k200" cx="863.3" cy="688.0" r="7.9"/>
<circle class="k200" cx="889.2" cy="688.0" r="7.9"/>
<circle class="k200" cx="915.1" cy="688.0" r="7.9"/>
<circle class="k200" cx="941.1" cy="688.0" r="7.9"/>
<circle class="k190" cx="967.0" cy="688.0" r="7.9"/>
<circle class="k200" cx="992.9" cy="688.0" r="7.9"/>
<circle class="k200" cx="1018.9" cy="688.0" r="7.9"/>
<circle class="k200" cx="1044.8" cy="688.0" r="7.9"/>
<circle class="k200" cx="1070.7" cy="688.0" r="7.9"/>
<circle class="k200" cx="1096.6" cy="688.0" r="7.9"/>
<circle class="k200" cx="1122.6" cy="688.0" r="7.9"/>
<circle class="k200" cx="1148.5" cy="688.0" r="7.9"/>
<circle class="k200" cx="1174.4" cy="688.0" r="7.9"/>
<circle class="k200" cx="1200.4" cy="688.0" r="7.9"/>
<circle class="k200" cx="1226.3" cy="688.0" r="7.9"/>
<circle class="k190" cx="1252.2" cy="688.0" r="7.9"/>
<circle class="k200" cx="1278.2" cy="688.0" r="7.9"/>
<circle class="k200" cx="1304.1" cy="688.0" r="7.9"/>
<circle class="k200" cx="1330.0" cy="688.0" r="7.9"/>
<circle class="k200" cx="1355.9" cy="688.0" r="7.9"/>
<circle class="k200" cx="1381.9" cy="688.0" r="7.9"/>
<circle class="k200" cx="1407.8" cy="688.0" r="7.9"/>
<circle class="k200" cx="1433.7" cy="688.0" r="7.9"/>
<circle class="k200" cx="1459.7" cy="688.0" r="7.9"/>
<circle class="k200" cx="500.3" cy="709.8" r="7.9"/>
<circle class="k200" cx="526.2" cy="709.8" r="7.9"/>
<circle class="k200" cx="552.1" cy="709.8" r="7.9"/>
<circle class="k200" cx="578.0" cy="709.8" r="7.9"/>
<circle class="k200" cx="604.0" cy="709.8" r="7.9"/>
<circle class="k200" cx="629.9" cy="709.8" r="7.9"/>
<circle class="k200" cx="655.8" cy="709.8" r="7.9"/>
<circle class="k200" cx="681.8" cy="709.8" r="7.9"/>
<circle class="k200" cx="707.7" cy="709.8" r="7.9"/>
<circle class="k200" cx="733.6" cy="709.8" r="7.9"/>
<circle class="k200" cx="759.6" cy="709.8" r="7.9"/>
<circle class="k200" cx="785.5" cy="709.8" r="7.9"/>
<circle class="k200" cx="811.4" cy="709.8" r="7.9"/>
<circle class="k200" cx="837.4" cy="709.8" r="7.9"/>
<circle class="k200" cx="863.3" cy="709.8" r="7.9"/>
<circle class="k200" cx="889.2" cy="709.8" r="7.9"/>
<circle class="k200" cx="915.1" cy="709.8" r="7.9"/>
<circle class="k200" cx="941.1" cy="709.8" r="7.9"/>
<circle class="k200" cx="967.0" cy="709.8" r="7.9"/>
<circle class="k200" cx="992.9" cy="709.8" r="7.9"/>
<circle class="k200" cx="1018.9" cy="709.8" r="7.9"/>
<circle class="k200" cx="1044.8" cy="709.8" r="7.9"/>
<circle class="k200" cx="1070.7" cy="709.8" r="7.9"/>
<circle class="k200" cx="1096.6" cy="709.8" r="7.9"/>
<circle class="k200" cx="1122.6" cy="709.8" r="7.9"/>
<circle class="k200" cx="1148.5" cy="709.8" r="7.9"/>
<circle class="k200" cx="1174.4" cy="709.8" r="7.9"/>
<circle class="k200" cx="1200.4" cy="709.8" r="7.9"/>
<circle class="k200" cx="1226.3" cy="709.8" r="7.9"/>
<circle class="k200" cx="1252.2" cy="709.8" r="7.9"/>
<circle class="k200" cx="1278.2" cy="709.8" r="7.9"/>
<circle class="k200" cx="1304.1" cy="709.8" r="7.9"/>
<circle class="k200" cx="1330.0" cy="709.8" r="7.9"/>
<circle class="k200" cx="1355.9" cy="709.8" r="7.9"/>
<circle class="k200" cx="1381.9" cy="709.8" r="7.9"/>
<circle class="k200" cx="1407.8" cy="709.8" r="7.9"/>
<circle class="k200" cx="1433.7" cy="709.8" r="7.9"/>
<circle class="k200" cx="1459.7" cy="709.8" r="7.9"/>
<circle class="k200" cx="526.2" cy="731.5" r="7.9"/>
<circle class="k200" cx="552.1" cy="731.5" r="7.9"/>
<circle class="k200" cx="578.0" cy="731.5" r="7.9"/>
<circle class="k200" cx="604.0" cy="731.5" r="7.9"/>
<circle class="k200" cx="629.9" cy="731.5" r="7.9"/>
<circle class="k200" cx="655.8" cy="731.5" r="7.9"/>
<circle class="k200" cx="681.8" cy="731.5" r="7.9"/>
<circle class="k200" cx="707.7" cy="731.5" r="7.9"/>
<circle class="k200" cx="733.6" cy="731.5" r="7.9"/>
<circle class="k200" cx="759.6" cy="731.5" r="7.9"/>
<circle class="k200" cx="785.5" cy="731.5" r="7.9"/>
<circle class="k200" cx="811.4" cy="731.5" r="7.9"/>
<circle class="k200" cx="837.4" cy="731.5" r="7.9"/>
<circle class="k200" cx="863.3" cy="731.5" r="7.9"/>
<circle class="k200" cx="889.2" cy="731.5" r="7.9"/>
<circle class="k200" cx="915.1" cy="731.5" r="7.9"/>
<circle class="k200" cx="941.1" cy="731.5" r="7.9"/>
<circle class="k200" cx="967.0" cy="731.5" r="7.9"/>
<circle class="k200" cx="992.9" cy="731.5" r="7.9"/>
<circle class="k200" cx="1018.9" cy="731.5" r="7.9"/>
<circle class="k200" cx="1044.8" cy="731.5" r="7.9"/>
<circle class="k200" cx="1070.7" cy="731.5" r="7.9"/>
<circle class="k200" cx="1096.6" cy="731.5" r="7.9"/>
<circle class="k200" cx="1122.6" cy="731.5" r="7.9"/>
<circle class="k200" cx="1148.5" cy="731.5" r="7.9"/>
<circle class="k200" cx="1174.4" cy="731.5" r="7.9"/>
<circle class="k200" cx="1200.4" cy="731.5" r="7.9"/>
<circle class="k170" cx="1226.3" cy="731.5" r="7.9"/>
<circle class="k200" cx="1252.2" cy="731.5" r="7.9"/>
<circle class="k200" cx="1278.2" cy="731.5" r="7.9"/>
<circle class="k200" cx="1304.1" cy="731.5" r="7.9"/>
<circle class="k200" cx="1330.0" cy="731.5" r="7.9"/>
<circle class="k200" cx="1355.9" cy="731.5" r="7.9"/>
<circle class="k200" cx="1381.9" cy="731.5" r="7.9"/>
<circle class="k200" cx="1407.8" cy="731.5" r="7.9"/>
<circle class="k200" cx="1433.7" cy="731.5" r="7.9"/>
<circle class="k200" cx="1459.7" cy="731.5" r="7.9"/>
<circle class="k200" cx="552.1" cy="753.2" r="7.9"/>
<circle class="k180" cx="578.0" cy="753.2" r="7.9"/>
<circle class="k190" cx="604.0" cy="753.2" r="7.9"/>
<circle class="k200" cx="629.9" cy="753.2" r="7.9"/>
<circle class="k200" cx="655.8" cy="753.2" r="7.9"/>
<circle class="k200" cx="681.8" cy="753.2" r="7.9"/>
<circle class="k200" cx="707.7" cy="753.2" r="7.9"/>
<circle class="k200" cx="733.6" cy="753.2" r="7.9"/>
<circle class="k200" cx="759.6" cy="753.2" r="7.9"/>
<circle class="k200" cx="785.5" cy="753.2" r="7.9"/>
<circle class="k200" cx="811.4" cy="753.2" r="7.9"/>
<circle class="k200" cx="837.4" cy="753.2" r="7.9"/>
<circle class="k200" cx="863.3" cy="753.2" r="7.9"/>
<circle class="k200" cx="889.2" cy="753.2" r="7.9"/>
<circle class="k200" cx="915.1" cy="753.2" r="7.9"/>
<circle class="k200" cx="941.1" cy="753.2" r="7.9"/>
<circle class="k200" cx="967.0" cy="753.2" r="7.9"/>
<circle class="k200" cx="992.9" cy="753.2" r="7.9"/>
<circle class="k200" cx="1018.9" cy="753.2" r="7.9"/>
<circle class="k200" cx="1044.8" cy="753.2" r="7.9"/>
<circle class="k200" cx="1070.7" cy="753.2" r="7.9"/>
<circle class="k200" cx="1096.6" cy="753.2" r="7.9"/>
<circle class="k200" cx="1122.6" cy="753.2" r="7.9"/>
<circle class="k200" cx="1148.5" cy="753.2" r="7.9"/>
<circle class="k200" cx="1174.4" cy="753.2" r="7.9"/>
<circle class="k200" cx="1200.4" cy="753.2" r="7.9"/>
<circle class="k200" cx="1226.3" cy="753.2" r="7.9"/>
<circle class="k200" cx="1252.2" cy="753.2" r="7.9"/>
<circle class="k200" cx="1278.2" cy="753.2" r="7.9"/>
<circle class="k200" cx="1304.1" cy="753.2" r="7.9"/>
<circle class="k200" cx="1330.0" cy="753.2" r="7.9"/>
<circle class="k200" cx="1355.9" cy="753.2" r="7.9"/>
<circle class="k200" cx="1381.9" cy="753.2" r="7.9"/>
<circle class="k200" cx="1407.8" cy="753.2" r="7.9"/>
<circle class="k200" cx="1433.7" cy="753.2" r="7.9"/>
<circle class="k200" cx="1459.7" cy="753.2" r="7.9"/>
</g>
<circle cx="219.3" cy="307.5" r="4.7" fill="#ffffa8" fill-opacity=".7" stroke="#707050" stroke-opacity=".32" stroke-width="1.2"/>
<circle cx="565.0" cy="307.5" r="4.7" fill="#ffffa8" fill-opacity=".7" stroke="#707050" stroke-opacity=".32" stroke-width="1.2"/>
<circle cx="219.3" cy="546.8" r="4.7" fill="#ffffa8" fill-opacity=".7" stroke="#707050" stroke-opacity=".32" stroke-width="1.2"/>
<circle cx="565.0" cy="546.8" r="4.7" fill="#ffffa8" fill-opacity=".7" stroke="#707050" stroke-opacity=".32" stroke-width="1.2"/>
<text class="tb tm" style="font-size:19.5px" x="362.6" y="951.6">count by m1</text>
<path class="g" d="M77.4 1467.0H730.2M77.4 1396.7H730.2M77.4 1326.4H730.2M77.4 1256.1H730.2M77.4 1185.8H730.2M77.4 1115.5H730.2M77.4 1045.2H730.2M94.7 1537.3V1553.8M157.8 974.0V1553.8M221.1 974.0V1553.8M284.6 974.0V1553.8M348.3 974.0V1553.8M411.8 974.0V1553.8M475.5 974.0V1553.8M538.8 974.0V1553.8M602.5 974.0V1553.8M697.6 974.0V1553.8"/>
<g class="b">
<rect x="98.6" y="1400.8" width="22.0" height="136.5"/>
<rect x="129.7" y="1396.5" width="22.2" height="140.8"/>
<rect x="162.6" y="1397.2" width="22.0" height="140.1"/>
<rect x="193.6" y="1399.9" width="22.3" height="137.4"/>
<rect x="224.5" y="1402.9" width="22.4" height="134.4"/>
<rect x="257.4" y="1392.5" width="22.2" height="144.8"/>
<rect x="288.4" y="1396.1" width="22.3" height="141.2"/>
<rect x="321.1" y="1398.8" width="22.2" height="138.5"/>
<rect x="352.2" y="1126.0" width="22.2" height="411.3"/>
<rect x="383.2" y="1157.3" width="22.3" height="380.0"/>
<rect x="416.3" y="1172.0" width="22.0" height="365.3"/>
<rect x="447.2" y="1000.8" width="22.2" height="536.5"/>
<rect x="480.1" y="1394.3" width="22.2" height="143.0"/>
<rect x="511.1" y="1390.2" width="22.3" height="147.1"/>
<rect x="542.2" y="1396.5" width="22.2" height="140.8"/>
<rect x="574.9" y="1395.4" width="22.2" height="141.9"/>
<rect x="605.9" y="1394.3" width="22.3" height="143.0"/>
<rect x="638.8" y="1401.5" width="22.3" height="135.8"/>
<rect x="669.7" y="1397.0" width="22.2" height="140.3"/>
<rect x="700.7" y="1400.6" width="22.3" height="136.7"/>
</g>
<path class="z" d="M94.9 974.0V1537.3"/><path class="zb" d="M77.4 1537.3H730.2"/>
<text class="te" x="76.4" y="1542.2">0</text>
<text class="te" x="76.4" y="1471.9">1000</text>
<text class="te" x="76.4" y="1401.6">2000</text>
<text class="te" x="76.4" y="1331.3">3000</text>
<text class="te" x="76.4" y="1261.0">4000</text>
<text class="te" x="76.4" y="1190.7">5000</text>
<text class="te" x="76.4" y="1120.4">6000</text>
<text class="te" x="76.4" y="1050.1">7000</text>
<text class="te" x="76.4" y="979.8">8000</text>
<text class="te rt" transform="translate(114.3 1556.8) rotate(-50)">-3799.4</text>
<text class="te rt" transform="translate(177.4 1556.8) rotate(-50)">-3001.1</text>
<text class="te rt" transform="translate(240.7 1556.8) rotate(-50)">-2202.8</text>
<text class="te rt" transform="translate(304.2 1556.8) rotate(-50)">-1404.4</text>
<text class="te rt" transform="translate(367.9 1556.8) rotate(-50)">-606.13</text>
<text class="te rt" transform="translate(431.4 1556.8) rotate(-50)">192.19</text>
<text class="te rt" transform="translate(495.1 1556.8) rotate(-50)">990.50</text>
<text class="te rt" transform="translate(558.4 1556.8) rotate(-50)">1788.8</text>
<text class="te rt" transform="translate(622.1 1556.8) rotate(-50)">2587.1</text>
<text class="te rt" transform="translate(717.2 1556.8) rotate(-50)">3784.6</text>
<text class="tm ax" x="410.0" y="1658.2">m1</text>
<text class="tb tm" style="font-size:19.5px" x="1129.2" y="951.6">count by m2</text>
<path class="g" d="M842.9 1467.0H1495.7M842.9 1396.7H1495.7M842.9 1326.4H1495.7M842.9 1256.1H1495.7M842.9 1185.8H1495.7M842.9 1115.5H1495.7M842.9 1045.2H1495.7M860.4 1537.3V1553.8M924.0 974.0V1553.8M987.4 974.0V1553.8M1050.9 974.0V1553.8M1114.5 974.0V1553.8M1177.7 974.0V1553.8M1241.4 974.0V1553.8M1304.7 974.0V1553.8M1368.3 974.0V1553.8M1463.0 974.0V1553.8"/>
<g class="b">
<rect x="864.5" y="1393.4" width="22.0" height="143.9"/>
<rect x="895.6" y="1382.9" width="22.0" height="154.4"/>
<rect x="928.2" y="1389.5" width="22.0" height="147.8"/>
<rect x="959.3" y="1383.6" width="22.0" height="153.7"/>
<rect x="990.6" y="1379.8" width="22.0" height="157.5"/>
<rect x="1023.3" y="1392.9" width="22.0" height="144.4"/>
<rect x="1054.3" y="1385.2" width="22.0" height="152.1"/>
<rect x="1087.0" y="1386.6" width="22.2" height="150.7"/>
<rect x="1118.1" y="1298.5" width="22.2" height="238.8"/>
<rect x="1149.1" y="1042.6" width="22.3" height="494.7"/>
<rect x="1181.9" y="1091.5" width="22.2" height="445.8"/>
<rect x="1212.9" y="1218.8" width="22.2" height="318.5"/>
<rect x="1245.7" y="1380.6" width="22.2" height="156.7"/>
<rect x="1276.7" y="1378.8" width="22.2" height="158.5"/>
<rect x="1307.7" y="1381.1" width="22.1" height="156.2"/>
<rect x="1340.5" y="1380.9" width="22.4" height="156.4"/>
<rect x="1371.7" y="1381.3" width="22.4" height="156.0"/>
<rect x="1404.5" y="1381.1" width="22.3" height="156.2"/>
<rect x="1435.4" y="1389.7" width="22.4" height="147.6"/>
<rect x="1466.7" y="1392.4" width="22.3" height="144.9"/>
</g>
<path class="z" d="M860.4 974.0V1537.3"/><path class="zb" d="M842.9 1537.3H1495.7"/>
<text class="te" x="841.9" y="1542.2">0</text>
<text class="te" x="841.9" y="1471.9">1000</text>
<text class="te" x="841.9" y="1401.6">2000</text>
<text class="te" x="841.9" y="1331.3">3000</text>
<text class="te" x="841.9" y="1261.0">4000</text>
<text class="te" x="841.9" y="1190.7">5000</text>
<text class="te" x="841.9" y="1120.4">6000</text>
<text class="te" x="841.9" y="1050.1">7000</text>
<text class="te" x="841.9" y="979.8">8000</text>
<text class="te rt" transform="translate(880.0 1556.8) rotate(-50)">-3799.5</text>
<text class="te rt" transform="translate(943.6 1556.8) rotate(-50)">-3003.7</text>
<text class="te rt" transform="translate(1007.0 1556.8) rotate(-50)">-2207.9</text>
<text class="te rt" transform="translate(1070.5 1556.8) rotate(-50)">-1412.1</text>
<text class="te rt" transform="translate(1134.1 1556.8) rotate(-50)">-616.31</text>
<text class="te rt" transform="translate(1197.3 1556.8) rotate(-50)">179.48</text>
<text class="te rt" transform="translate(1261.0 1556.8) rotate(-50)">975.28</text>
<text class="te rt" transform="translate(1324.3 1556.8) rotate(-50)">1771.1</text>
<text class="te rt" transform="translate(1387.9 1556.8) rotate(-50)">2566.9</text>
<text class="te rt" transform="translate(1482.6 1556.8) rotate(-50)">3760.6</text>
<text class="tm ax" x="1177.0" y="1658.2">m2</text>
</svg></body></html>
